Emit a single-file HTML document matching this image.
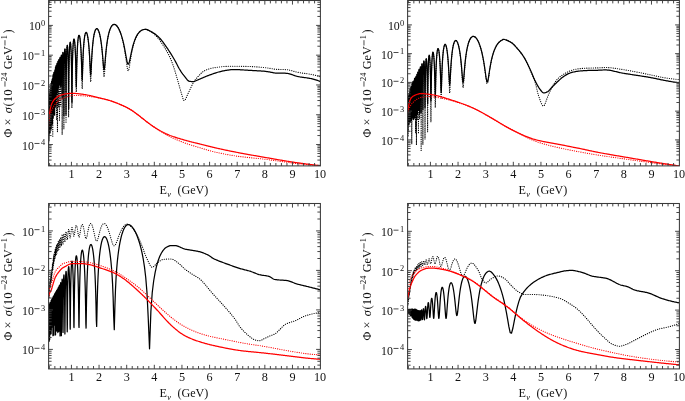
<!DOCTYPE html>
<html><head><meta charset="utf-8"><style>
html,body{margin:0;padding:0;background:#fff;}
svg{display:block;will-change:transform;}
.t text{font-family:"Liberation Serif",serif;font-size:12.2px;fill:#111;opacity:0.999;}
.t text.s,.t tspan.s{font-size:8.4px;}
</style></head><body>
<svg width="685" height="401" viewBox="0 0 685 401">
<rect width="685" height="401" fill="#fff"/>
<clipPath id="c1"><rect x="48.6" y="0.5" width="271.8" height="165.4"/></clipPath>
<g clip-path="url(#c1)">
<path d="M48.44 168.76L48.73 108.17L49.02 135.32L49.31 109.43L49.60 119.32L49.89 112.45L50.18 89.73L50.47 110.18L50.76 100.55L51.05 84.77L51.34 81.98L51.63 80.96L51.92 79.38L52.21 79.19L52.50 86.20L52.79 136.15L53.08 85.11L53.37 74.31L53.66 103.10L53.95 78.33L54.24 77.21L54.53 88.45L54.82 72.05L55.11 87.83L55.40 72.25L55.69 75.85L55.98 82.19L56.27 65.71L56.57 120.22L56.86 67.19L57.15 67.29L57.44 131.82L57.73 64.83L58.02 64.03L58.31 107.41L58.60 70.25L58.89 59.43L59.18 69.83L59.47 121.17L59.76 65.25L60.05 57.42L60.34 64.74L60.63 106.82L60.92 73.52L60.92 73.52L60.95 70.28L60.99 67.54L61.02 65.19L61.06 63.17L61.09 61.44L61.13 59.96L61.16 58.71L61.20 57.66L61.23 56.80L61.27 56.12L61.31 55.60L61.34 55.26L61.38 55.07L61.42 55.04L61.45 55.17L61.49 55.47L61.53 55.93L61.56 56.56L61.60 57.38L61.64 58.39L61.68 59.62L61.72 61.08L61.75 62.80L61.79 64.83L61.83 67.22L61.87 70.05L61.91 73.41L61.95 77.48L61.99 82.52L62.02 89.01L62.06 97.88L62.10 111.46L62.14 134.68L62.18 123.56L62.22 104.67L62.26 93.39L62.30 85.55L62.34 79.61L62.39 74.88L62.43 71.00L62.47 67.74L62.51 64.97L62.55 62.60L62.59 60.57L62.63 58.82L62.68 57.32L62.72 56.05L62.76 54.99L62.80 54.11L62.85 53.41L62.89 52.88L62.93 52.52L62.98 52.32L63.02 52.27L63.06 52.38L63.11 52.66L63.15 53.10L63.20 53.72L63.24 54.51L63.29 55.50L63.33 56.71L63.38 58.14L63.42 59.84L63.47 61.85L63.51 64.21L63.56 66.99L63.60 70.32L63.65 74.34L63.70 79.31L63.75 85.70L63.79 94.41L63.84 107.55L63.89 129.04L63.94 120.39L63.98 101.81L64.03 90.47L64.08 82.57L64.13 76.59L64.18 71.82L64.23 67.90L64.28 64.61L64.33 61.81L64.38 59.41L64.43 57.35L64.48 55.57L64.53 54.05L64.58 52.75L64.63 51.66L64.68 50.76L64.73 50.04L64.79 49.49L64.84 49.10L64.89 48.87L64.94 48.80L65.00 48.90L65.05 49.15L65.10 49.57L65.16 50.16L65.21 50.94L65.27 51.91L65.32 53.09L65.37 54.51L65.43 56.19L65.49 58.17L65.54 60.50L65.60 63.26L65.65 66.55L65.71 70.53L65.77 75.46L65.82 81.76L65.88 90.31L65.94 103.07L66.00 123.23L66.06 116.62L66.12 98.37L66.17 87.00L66.23 79.07L66.29 73.05L66.35 68.26L66.41 64.32L66.47 61.02L66.54 58.22L66.60 55.82L66.66 53.76L66.72 51.98L66.78 50.46L66.85 49.17L66.91 48.08L66.97 47.19L67.04 46.47L67.10 45.93L67.16 45.55L67.23 45.33L67.29 45.27L67.36 45.38L67.43 45.64L67.49 46.07L67.56 46.67L67.63 47.46L67.69 48.44L67.76 49.63L67.83 51.05L67.90 52.74L67.97 54.73L68.04 57.06L68.11 59.82L68.18 63.10L68.25 67.07L68.32 71.96L68.39 78.19L68.46 86.58L68.53 98.88L68.60 117.29L68.68 112.67L68.75 95.26L68.82 83.97L68.90 76.04L68.97 70.02L69.05 65.23L69.12 61.29L69.20 57.99L69.28 55.19L69.35 52.79L69.43 50.73L69.51 48.95L69.59 47.43L69.67 46.14L69.75 45.05L69.83 44.16L69.91 43.44L69.99 42.89L70.07 42.51L70.15 42.29L70.23 42.23L70.32 42.33L70.40 42.58L70.48 43.01L70.57 43.61L70.65 44.38L70.74 45.36L70.83 46.54L70.91 47.95L71.00 49.62L71.09 51.59L71.18 53.90L71.27 56.63L71.35 59.88L71.44 63.78L71.54 68.57L71.63 74.63L71.72 82.63L71.81 93.80L71.90 107.95L72.00 105.44L72.09 91.16L72.19 80.54L72.28 72.82L72.38 66.88L72.48 62.12L72.57 58.20L72.67 54.90L72.77 52.10L72.87 49.70L72.97 47.63L73.07 45.85L73.17 44.33L73.28 43.03L73.38 41.93L73.48 41.03L73.59 40.30L73.69 39.75L73.80 39.35L73.91 39.12L74.02 39.05L74.12 39.13L74.23 39.37L74.34 39.77L74.45 40.35L74.57 41.10L74.68 42.04L74.79 43.18L74.90 44.55L75.02 46.17L75.14 48.07L75.25 50.30L75.37 52.92L75.49 56.01L75.61 59.70L75.73 64.15L75.85 69.60L75.97 76.39L76.09 84.59L76.22 92.07L76.34 91.42L76.47 83.40L76.60 75.11L76.72 68.28L76.85 62.75L76.98 58.19L77.11 54.37L77.24 51.13L77.38 48.36L77.51 45.98L77.65 43.92L77.78 42.14L77.92 40.61L78.06 39.30L78.20 38.21L78.34 37.30L78.48 36.57L78.62 36.01L78.77 35.61L78.91 35.38L79.06 35.31L79.21 35.39L79.35 35.64L79.51 36.05L79.66 36.63L79.81 37.39L79.96 38.34L80.12 39.49L80.28 40.87L80.43 42.50L80.59 44.42L80.75 46.67L80.92 49.30L81.08 52.41L81.25 56.11L81.41 60.57L81.58 66.04L81.75 72.83L81.92 81.10L82.09 88.84L82.27 88.54L82.44 80.52L82.62 72.16L82.80 65.29L82.98 59.73L83.16 55.17L83.35 51.36L83.53 48.13L83.72 45.37L83.91 43.00L84.10 40.95L84.30 39.19L84.49 37.67L84.69 36.38L84.89 35.29L85.09 34.39L85.29 33.67L85.50 33.11L85.70 32.72L85.91 32.48L86.12 32.40L86.34 32.48L86.55 32.71L86.77 33.11L86.99 33.67L87.21 34.41L87.43 35.34L87.66 36.47L87.89 37.82L88.12 39.42L88.35 41.29L88.59 43.48L88.83 46.05L89.07 49.07L89.31 52.65L89.56 56.92L89.81 62.08L90.06 68.33L90.32 75.53L90.57 81.73L90.83 81.70L91.10 75.36L91.36 67.96L91.63 61.50L91.90 56.13L92.18 51.65L92.46 47.87L92.74 44.66L93.03 41.89L93.31 39.51L93.61 37.44L93.90 35.66L94.20 34.12L94.50 32.80L94.81 31.68L95.12 30.76L95.43 30.01L95.75 29.43L96.07 29.01L96.40 28.75L96.73 28.65L97.06 28.70L97.40 28.91L97.74 29.28L98.09 29.81L98.44 30.52L98.79 31.41L99.15 32.50L99.52 33.81L99.89 35.36L100.26 37.18L100.64 39.32L101.03 41.84L101.42 44.79L101.81 48.29L102.21 52.48L102.62 57.54L103.03 63.64L103.45 70.65L103.88 76.71L104.31 76.89L104.74 70.83L105.18 63.51L105.63 57.06L106.09 51.66L106.55 47.16L107.02 43.35L107.50 40.10L107.98 37.31L108.47 34.91L108.97 32.83L109.48 31.03L109.99 29.49L110.52 28.18L111.05 27.08L111.59 26.18L112.13 25.46L112.69 24.93L113.26 24.57L113.83 24.39L114.42 24.37L115.01 24.52L115.62 24.83L116.23 25.31L116.86 25.95L117.50 26.77L118.15 27.78L118.81 29.00L119.48 30.42L120.16 32.10L120.86 34.04L121.57 36.28L122.29 38.88L123.03 41.90L123.78 45.42L124.54 49.53L125.32 54.35L126.11 59.90L126.92 65.81L127.75 70.45L128.59 70.80L129.45 66.59L130.33 60.79L131.22 55.26L132.14 50.46L133.07 46.39L134.02 42.94L135.00 40.01L135.99 37.54L137.01 35.49L138.05 33.81L139.11 32.44L140.20 31.35L141.31 30.52L142.45 29.92L143.62 29.53L144.81 29.33L146.03 29.29L146.03 29.21L146.91 29.55L147.78 29.94L148.66 30.38L149.53 30.85L150.40 31.36L151.28 31.93L152.15 32.55L153.03 33.22L153.90 33.94L154.78 34.69L155.65 35.51L156.53 36.39L157.40 37.33L158.28 38.33L159.15 39.43L160.03 40.63L160.90 41.89L161.78 43.17L162.65 44.48L163.53 45.83L164.40 47.22L165.27 48.66L166.15 50.15L167.02 51.67L167.90 53.23L168.77 54.87L169.65 56.63L170.52 58.56L171.40 60.69L172.27 62.99L173.15 65.43L174.02 68.08L174.90 70.90L175.77 73.83L176.65 76.79L177.52 79.76L178.40 82.87L179.27 86.00L180.15 89.05L181.02 91.90L181.89 94.99L182.77 98.14L183.64 100.32L184.52 100.63L185.39 99.52L186.27 97.65L187.14 95.53L188.02 93.65L188.89 91.87L189.77 89.99L190.64 88.08L191.52 86.20L192.39 84.42L193.27 82.81L194.14 81.43L195.02 80.19L195.89 79.04L196.76 77.98L197.64 76.98L198.51 76.03L199.39 75.11L200.26 74.17L201.14 73.26L202.01 72.42L202.89 71.69L203.76 71.12L204.64 70.69L205.51 70.29L206.39 69.93L207.26 69.58L208.14 69.26L209.01 68.96L209.89 68.70L210.76 68.46L211.63 68.25L212.51 68.05L213.38 67.88L214.26 67.72L215.13 67.58L216.01 67.44L216.88 67.32L217.76 67.20L218.63 67.08L219.51 66.97L220.38 66.87L221.26 66.78L222.13 66.69L223.01 66.61L223.88 66.53L224.76 66.47L225.63 66.41L226.51 66.36L227.38 66.32L228.25 66.29L229.13 66.26L230.00 66.25L230.88 66.23L231.75 66.23L232.63 66.22L233.50 66.23L234.38 66.23L235.25 66.24L236.13 66.24L237.00 66.25L237.88 66.27L238.75 66.28L239.63 66.29L240.50 66.31L241.38 66.32L242.25 66.34L243.12 66.36L244.00 66.37L244.87 66.39L245.75 66.41L246.62 66.44L247.50 66.46L248.37 66.48L249.25 66.51L250.12 66.54L251.00 66.57L251.87 66.61L252.75 66.65L253.62 66.69L254.50 66.74L255.37 66.79L256.25 66.85L257.12 66.91L257.99 66.97L258.87 67.04L259.74 67.11L260.62 67.18L261.49 67.26L262.37 67.35L263.24 67.44L264.12 67.53L264.99 67.63L265.87 67.74L266.74 67.86L267.62 67.99L268.49 68.13L269.37 68.28L270.24 68.44L271.12 68.60L271.99 68.75L272.87 68.90L273.74 69.03L274.61 69.15L275.49 69.24L276.36 69.32L277.24 69.37L278.11 69.41L278.99 69.44L279.86 69.46L280.74 69.47L281.61 69.48L282.49 69.49L283.36 69.50L284.24 69.53L285.11 69.56L285.99 69.62L286.86 69.70L287.74 69.81L288.61 69.95L289.48 70.13L290.36 70.33L291.23 70.56L292.11 70.81L292.98 71.07L293.86 71.33L294.73 71.58L295.61 71.81L296.48 72.04L297.36 72.24L298.23 72.42L299.11 72.58L299.98 72.73L300.86 72.87L301.73 72.99L302.61 73.12L303.48 73.23L304.36 73.35L305.23 73.47L306.10 73.58L306.98 73.71L307.85 73.84L308.73 73.98L309.60 74.13L310.48 74.28L311.35 74.45L312.23 74.63L313.10 74.82L313.98 75.02L314.85 75.23L315.73 75.44L316.60 75.67L317.48 75.90L318.35 76.14L319.23 76.38L320.10 76.62" stroke="#000" stroke-width="1.15" fill="none" stroke-linecap="round" stroke-dasharray="0.15 2.05"/>
<path d="M48.22 117.74L48.33 136.59L48.44 144.72L48.55 133.36L48.66 130.39L48.77 135.69L48.88 140.93L48.99 120.18L49.10 104.35L49.22 97.46L49.33 101.40L49.44 130.79L49.55 104.59L49.66 93.55L49.77 113.65L49.88 102.08L49.99 91.98L50.10 132.99L50.21 89.50L50.32 109.88L50.43 90.92L50.54 100.42L50.65 90.77L50.76 99.70L50.87 87.61L50.98 107.86L51.09 83.68L51.20 128.98L51.32 83.02L51.43 96.97L51.54 92.55L51.65 81.82L51.76 124.62L51.87 83.00L51.98 83.94L52.09 121.31L52.20 80.38L52.31 82.92L52.42 123.98L52.53 80.99L52.64 78.61L52.75 108.29L52.86 88.00L52.97 75.40L53.08 84.74L53.19 117.99L53.30 80.01L53.42 74.17L53.53 86.33L53.64 114.04L53.75 79.33L53.86 72.43L53.97 79.96L54.08 113.40L54.19 86.32L54.30 72.29L54.41 71.98L54.52 84.41L54.63 115.19L54.74 81.68L54.85 70.35L54.96 69.80L55.07 79.14L55.18 107.43L55.29 88.71L55.40 72.07L55.52 67.10L55.63 69.63L55.74 80.96L55.85 106.05L55.96 85.75L56.07 70.92L56.18 65.48L56.29 66.02L56.40 72.41L56.51 86.51L56.62 94.41L56.73 77.64L56.84 67.60L56.95 63.46L57.06 63.76L57.17 68.38L57.28 78.27L57.39 91.28L57.50 83.93L57.61 71.51L57.73 64.45L57.84 61.48L57.95 61.82L58.06 65.41L58.17 72.76L58.28 83.94L58.39 87.86L58.50 76.92L58.61 67.68L58.72 62.22L58.83 59.73L58.94 59.73L59.05 62.14L59.16 67.21L59.27 75.38L59.38 85.09L59.49 84.55L59.60 74.65L59.71 66.51L59.83 61.27L59.94 58.37L60.05 57.42L60.16 58.27L60.27 60.98L60.38 65.79L60.49 73.14L60.60 82.59L60.71 86.55L60.82 78.57L60.93 69.56L61.04 63.06L61.15 58.75L61.26 56.18L61.37 55.09L61.48 55.37L61.59 57.03L61.70 60.24L61.81 65.38L61.93 73.24L62.04 85.25L62.15 98.12L62.26 88.55L62.37 75.33L62.48 66.47L62.59 60.53L62.70 56.53L62.81 53.97L62.92 52.60L63.03 52.28L63.14 52.98L63.25 54.72L63.36 57.65L63.47 62.05L63.58 68.51L63.69 78.34L63.80 95.26L63.91 115.69L64.03 90.46L64.14 75.52L64.25 66.43L64.36 60.25L64.47 55.87L64.58 52.76L64.69 50.65L64.80 49.37L64.91 48.83L65.02 48.99L65.13 49.85L65.24 51.44L65.35 53.85L65.46 57.25L65.57 61.90L65.68 68.34L65.79 77.72L65.90 92.97L66.01 114.84L66.13 94.43L66.24 78.42L66.35 68.62L66.46 61.85L66.57 56.89L66.68 53.15L66.79 50.33L66.90 48.23L67.01 46.75L67.12 45.79L67.23 45.33L67.34 45.33L67.45 45.79L67.56 46.70L67.67 48.11L67.78 50.05L67.89 52.61L68.00 55.90L68.11 60.14L68.22 65.67L68.34 73.15L68.45 84.01L68.56 101.31L68.67 109.01L68.78 89.51L68.89 76.69L69.00 68.15L69.11 61.95L69.22 57.21L69.33 53.47L69.44 50.50L69.55 48.11L69.66 46.22L69.77 44.74L69.88 43.64L69.99 42.86L70.10 42.40L70.21 42.23L70.32 42.34L70.44 42.74L70.55 43.42L70.66 44.40L70.77 45.69L70.88 47.33L70.99 49.35L71.10 51.81L71.21 54.79L71.32 58.43L71.43 62.92L71.54 68.58L71.65 75.97L71.76 86.06L71.87 99.24L71.98 102.32L72.09 89.40L72.20 78.40L72.31 70.41L72.42 64.34L72.54 59.55L72.65 55.66L72.76 52.45L72.87 49.76L72.98 47.50L73.09 45.59L73.20 43.99L73.31 42.66L73.42 41.56L73.53 40.69L73.64 40.01L73.75 39.52L73.86 39.20L73.97 39.06L74.08 39.08L74.19 39.26L74.30 39.61L74.41 40.11L74.52 40.79L74.64 41.64L74.75 42.67L74.86 43.90L74.97 45.33L75.08 47.00L75.19 48.92L75.30 51.13L75.41 53.68L75.52 56.62L75.63 60.04L75.74 64.03L75.85 68.70L75.96 74.13L76.07 80.10L76.18 85.38L76.29 86.94L76.40 83.41L76.51 77.57L76.62 71.75L76.73 66.63L76.85 62.24L76.96 58.47L77.07 55.23L77.18 52.41L77.29 49.94L77.40 47.78L77.51 45.87L77.62 44.19L77.73 42.70L77.84 41.39L77.95 40.24L78.06 39.23L78.17 38.36L78.28 37.61L78.39 36.98L78.50 36.45L78.61 36.03L78.72 35.71L78.83 35.48L78.95 35.35L79.06 35.31L79.17 35.35L79.28 35.49L79.39 35.71L79.50 36.01L79.61 36.41L79.72 36.89L79.72 36.89L79.87 37.71L80.03 38.72L80.18 39.93L80.34 41.37L80.50 43.06L80.66 45.03L80.82 47.33L80.98 50.00L81.14 53.12L81.31 56.79L81.48 61.09L81.64 66.13L81.81 71.81L81.99 77.33L82.16 80.21L82.33 78.10L82.51 72.73L82.69 66.84L82.87 61.51L83.05 56.93L83.23 53.00L83.41 49.64L83.60 46.74L83.79 44.23L83.98 42.06L84.17 40.17L84.36 38.54L84.56 37.14L84.75 35.94L84.95 34.94L85.15 34.11L85.36 33.45L85.56 32.96L85.77 32.62L85.98 32.44L86.19 32.41L86.40 32.53L86.62 32.80L86.83 33.24L87.05 33.84L87.28 34.62L87.50 35.58L87.73 36.75L87.96 38.13L88.19 39.75L88.42 41.64L88.66 43.84L88.90 46.40L89.14 49.38L89.38 52.86L89.63 56.91L89.88 61.61L90.13 66.83L90.38 71.91L90.64 74.90L90.90 73.67L91.16 69.10L91.43 63.61L91.70 58.43L91.97 53.87L92.25 49.93L92.53 46.53L92.81 43.58L93.09 41.02L93.38 38.79L93.67 36.86L93.97 35.17L94.27 33.72L94.57 32.48L94.88 31.43L95.19 30.55L95.50 29.85L95.82 29.32L96.14 28.94L96.46 28.72L96.79 28.65L97.13 28.73L97.47 28.96L97.81 29.35L98.15 29.91L98.50 30.63L98.86 31.54L99.22 32.64L99.59 33.95L99.96 35.50L100.33 37.31L100.71 39.42L101.09 41.88L101.48 44.75L101.88 48.09L102.28 51.98L102.69 56.49L103.10 61.53L103.52 66.53L103.94 69.79L104.37 69.16L104.81 65.00L105.25 59.63L105.70 54.42L106.15 49.80L106.62 45.78L107.09 42.30L107.56 39.29L108.05 36.67L108.54 34.40L109.04 32.42L109.54 30.71L110.06 29.23L110.58 27.98L111.11 26.92L111.65 26.06L112.19 25.38L112.75 24.88L113.32 24.54L113.89 24.38L114.48 24.38L115.07 24.54L115.68 24.86L116.29 25.34L116.92 25.99L117.55 26.81L118.20 27.81L118.86 29.00L119.53 30.40L120.21 32.04L120.91 33.92L121.62 36.09L122.34 38.58L123.07 41.42L123.82 44.68L124.59 48.39L125.36 52.54L126.16 57.00L126.96 61.24L127.79 64.08L128.63 64.16L129.49 61.43L130.36 57.29L131.26 52.93L132.17 48.87L133.10 45.27L134.05 42.14L135.02 39.42L136.02 37.11L137.03 35.18L138.07 33.57L139.13 32.27L140.21 31.23L141.32 30.44L142.46 29.87L143.62 29.50L144.81 29.31L146.03 29.28L146.03 29.21L146.91 29.56L147.78 29.93L148.66 30.33L149.53 30.76L150.40 31.20L151.28 31.67L152.15 32.16L153.03 32.69L153.90 33.24L154.78 33.84L155.65 34.49L156.53 35.19L157.40 35.94L158.28 36.75L159.15 37.61L160.03 38.52L160.90 39.50L161.78 40.58L162.65 41.73L163.53 42.93L164.40 44.14L165.27 45.36L166.15 46.60L167.02 47.87L167.90 49.16L168.77 50.49L169.65 51.84L170.52 53.21L171.40 54.62L172.27 56.05L173.15 57.52L174.02 59.01L174.90 60.53L175.77 62.12L176.65 63.79L177.52 65.50L178.40 67.17L179.27 68.76L180.15 70.21L181.02 71.56L181.89 72.84L182.77 74.07L183.64 75.23L184.52 76.34L185.39 77.43L186.27 78.60L187.14 79.73L188.02 80.62L188.89 81.10L189.77 81.31L190.64 81.48L191.52 81.60L192.39 81.67L193.27 81.65L194.14 81.39L195.02 81.06L195.89 80.74L196.76 80.38L197.64 80.00L198.51 79.61L199.39 79.22L200.26 78.86L201.14 78.49L202.01 78.12L202.89 77.75L203.76 77.38L204.64 77.02L205.51 76.65L206.39 76.29L207.26 75.94L208.14 75.59L209.01 75.25L209.89 74.93L210.76 74.61L211.63 74.29L212.51 73.97L213.38 73.65L214.26 73.35L215.13 73.06L216.01 72.78L216.88 72.52L217.76 72.27L218.63 72.02L219.51 71.79L220.38 71.57L221.26 71.35L222.13 71.15L223.01 70.96L223.88 70.77L224.76 70.60L225.63 70.43L226.51 70.28L227.38 70.14L228.25 70.01L229.13 69.90L230.00 69.80L230.88 69.73L231.75 69.66L232.63 69.62L233.50 69.59L234.38 69.58L235.25 69.58L236.13 69.59L237.00 69.61L237.88 69.64L238.75 69.68L239.63 69.72L240.50 69.77L241.38 69.82L242.25 69.88L243.12 69.94L244.00 70.00L244.87 70.06L245.75 70.12L246.62 70.17L247.50 70.23L248.37 70.29L249.25 70.34L250.12 70.39L251.00 70.44L251.87 70.49L252.75 70.54L253.62 70.58L254.50 70.63L255.37 70.67L256.25 70.72L257.12 70.76L257.99 70.81L258.87 70.85L259.74 70.90L260.62 70.96L261.49 71.01L262.37 71.07L263.24 71.14L264.12 71.22L264.99 71.30L265.87 71.40L266.74 71.51L267.62 71.64L268.49 71.78L269.37 71.94L270.24 72.11L271.12 72.29L271.99 72.47L272.87 72.64L273.74 72.80L274.61 72.93L275.49 73.04L276.36 73.12L277.24 73.17L278.11 73.20L278.99 73.22L279.86 73.22L280.74 73.21L281.61 73.20L282.49 73.19L283.36 73.18L284.24 73.19L285.11 73.22L285.99 73.28L286.86 73.36L287.74 73.49L288.61 73.66L289.48 73.87L290.36 74.11L291.23 74.39L292.11 74.69L292.98 75.00L293.86 75.31L294.73 75.61L295.61 75.89L296.48 76.14L297.36 76.37L298.23 76.56L299.11 76.74L299.98 76.90L300.86 77.04L301.73 77.16L302.61 77.28L303.48 77.40L304.36 77.51L305.23 77.63L306.10 77.75L306.98 77.87L307.85 78.01L308.73 78.16L309.60 78.32L310.48 78.49L311.35 78.68L312.23 78.89L313.10 79.12L313.98 79.36L314.85 79.62L315.73 79.89L316.60 80.17L317.48 80.46L318.35 80.77L319.23 81.08L320.10 81.39" stroke="#000" stroke-width="1.25" fill="none" stroke-linejoin="round"/>
<path d="M48.22 129.66L48.90 123.24L49.58 118.51L50.27 115.04L50.95 112.47L51.63 110.55L52.31 108.92L52.99 107.54L53.67 106.36L54.35 105.31L55.03 104.37L55.72 103.51L56.40 102.73L57.08 102.05L57.76 101.45L58.44 100.91L59.12 100.43L59.80 99.98L60.49 99.56L61.17 99.19L61.85 98.84L62.53 98.51L63.21 98.21L63.89 97.93L64.57 97.67L65.26 97.42L65.94 97.19L66.62 96.97L67.30 96.77L67.98 96.57L68.66 96.37L69.34 96.16L70.03 95.95L70.71 95.75L71.39 95.58L72.07 95.49L72.75 95.45L73.43 95.46L74.11 95.47L74.80 95.47L75.48 95.47L76.16 95.47L76.84 95.47L77.52 95.48L78.20 95.50L78.88 95.52L79.57 95.56L80.25 95.59L80.93 95.63L81.61 95.67L82.29 95.72L82.97 95.78L83.65 95.84L84.34 95.90L85.02 95.97L85.70 96.04L86.38 96.12L87.06 96.20L87.74 96.28L88.42 96.36L89.10 96.45L89.79 96.54L90.47 96.63L91.15 96.73L91.83 96.82L92.51 96.92L93.19 97.02L93.87 97.13L94.56 97.24L95.24 97.34L95.92 97.46L96.60 97.57L97.28 97.69L97.96 97.81L98.64 97.93L99.33 98.06L100.01 98.18L100.69 98.32L101.37 98.45L102.05 98.59L102.73 98.73L103.41 98.88L104.10 99.04L104.78 99.20L105.46 99.36L106.14 99.54L106.82 99.71L107.50 99.90L108.18 100.09L108.87 100.29L109.55 100.50L110.23 100.72L110.91 100.94L111.59 101.17L112.27 101.41L112.95 101.65L113.64 101.90L114.32 102.15L115.00 102.40L115.68 102.66L116.36 102.93L117.04 103.19L117.72 103.46L118.41 103.74L119.09 104.02L119.77 104.30L120.45 104.58L121.13 104.87L121.81 105.16L122.49 105.46L123.17 105.76L123.86 106.07L124.54 106.39L125.22 106.71L125.90 107.05L126.58 107.39L127.26 107.74L127.94 108.11L128.63 108.49L129.31 108.88L129.99 109.28L130.67 109.69L131.35 110.12L132.03 110.56L132.71 111.01L133.40 111.48L134.08 111.95L134.76 112.44L135.44 112.94L136.12 113.44L136.80 113.96L137.48 114.48L138.17 115.00L138.85 115.54L139.53 116.07L140.21 116.61L140.89 117.15L141.57 117.69L142.25 118.23L142.94 118.77L143.62 119.31L144.30 119.84L144.98 120.38L145.66 120.91L146.34 121.44L147.02 121.96L147.71 122.48L148.39 122.99L149.07 123.50L149.75 124.00L150.43 124.50L151.11 124.99L151.79 125.48L152.48 125.96L153.16 126.44L153.84 126.91L154.52 127.37L155.20 127.83L155.88 128.28L156.56 128.73L157.25 129.17L157.93 129.61L158.61 130.04L159.29 130.46L159.97 130.88L160.65 131.30L161.33 131.71L162.01 132.12L162.70 132.53L163.38 132.93L164.06 133.33L164.74 133.73L165.42 134.12L166.10 134.51L166.78 134.90L167.47 135.27L168.15 135.65L168.83 136.01L169.51 136.37L170.19 136.72L170.87 137.07L171.55 137.40L172.24 137.73L172.92 138.06L173.60 138.37L174.28 138.68L174.96 138.98L175.64 139.28L176.32 139.57L177.01 139.86L177.69 140.15L178.37 140.43L179.05 140.71L179.73 140.99L180.41 141.26L181.09 141.54L181.78 141.80L182.46 142.07L183.14 142.33L183.82 142.59L184.50 142.85L185.18 143.10L185.86 143.35L186.55 143.59L187.23 143.83L187.91 144.06L188.59 144.29L189.27 144.51L189.95 144.73L190.63 144.94L191.32 145.16L192.00 145.36L192.68 145.57L193.36 145.78L194.04 145.98L194.72 146.19L195.40 146.40L196.08 146.60L196.77 146.81L197.45 147.01L198.13 147.22L198.81 147.43L199.49 147.63L200.17 147.84L200.85 148.05L201.54 148.26L202.22 148.47L202.90 148.68L203.58 148.89L204.26 149.09L204.94 149.30L205.62 149.51L206.31 149.72L206.99 149.92L207.67 150.12L208.35 150.32L209.03 150.52L209.71 150.71L210.39 150.90L211.08 151.08L211.76 151.26L212.44 151.44L213.12 151.61L213.80 151.78L214.48 151.94L215.16 152.10L215.85 152.25L216.53 152.40L217.21 152.55L217.89 152.70L218.57 152.84L219.25 152.98L219.93 153.12L220.62 153.26L221.30 153.40L221.98 153.53L222.66 153.67L223.34 153.80L224.02 153.94L224.70 154.07L225.39 154.21L226.07 154.34L226.75 154.47L227.43 154.60L228.11 154.72L228.79 154.85L229.47 154.97L230.16 155.09L230.84 155.21L231.52 155.32L232.20 155.43L232.88 155.54L233.56 155.65L234.24 155.75L234.92 155.85L235.61 155.95L236.29 156.05L236.97 156.14L237.65 156.23L238.33 156.32L239.01 156.41L239.69 156.50L240.38 156.58L241.06 156.67L241.74 156.75L242.42 156.83L243.10 156.91L243.78 156.99L244.46 157.06L245.15 157.14L245.83 157.22L246.51 157.29L247.19 157.37L247.87 157.44L248.55 157.51L249.23 157.58L249.92 157.66L250.60 157.73L251.28 157.80L251.96 157.87L252.64 157.94L253.32 158.01L254.00 158.08L254.69 158.15L255.37 158.22L256.05 158.30L256.73 158.37L257.41 158.44L258.09 158.51L258.77 158.58L259.46 158.66L260.14 158.73L260.82 158.81L261.50 158.88L262.18 158.96L262.86 159.04L263.54 159.11L264.23 159.19L264.91 159.28L265.59 159.36L266.27 159.44L266.95 159.52L267.63 159.61L268.31 159.70L268.99 159.78L269.68 159.87L270.36 159.96L271.04 160.05L271.72 160.15L272.40 160.24L273.08 160.33L273.76 160.43L274.45 160.52L275.13 160.62L275.81 160.72L276.49 160.81L277.17 160.91L277.85 161.01L278.53 161.11L279.22 161.20L279.90 161.30L280.58 161.40L281.26 161.50L281.94 161.59L282.62 161.69L283.30 161.79L283.99 161.88L284.67 161.98L285.35 162.07L286.03 162.17L286.71 162.26L287.39 162.35L288.07 162.44L288.76 162.53L289.44 162.62L290.12 162.71L290.80 162.79L291.48 162.88L292.16 162.96L292.84 163.04L293.53 163.13L294.21 163.21L294.89 163.28L295.57 163.36L296.25 163.44L296.93 163.51L297.61 163.59L298.30 163.66L298.98 163.73L299.66 163.81L300.34 163.88L301.02 163.95L301.70 164.02L302.38 164.09L303.06 164.16L303.75 164.22L304.43 164.29L305.11 164.36L305.79 164.42L306.47 164.49L307.15 164.56L307.83 164.62L308.52 164.68L309.20 164.75L309.88 164.81L310.56 164.87L311.24 164.93L311.92 164.99L312.60 165.05L313.29 165.11L313.97 165.17L314.65 165.22L315.33 165.28L316.01 165.34L316.69 165.39L317.37 165.45L318.06 165.50L318.74 165.56L319.42 165.61L320.10 165.66" stroke="#f00" stroke-width="1.15" fill="none" stroke-linecap="round" stroke-dasharray="0.15 2.05"/>
<path d="M48.22 121.75L48.90 117.26L49.58 113.14L50.27 109.06L50.95 105.92L51.63 104.04L52.31 102.52L52.99 101.29L53.67 100.29L54.35 99.47L55.03 98.74L55.72 98.11L56.40 97.56L57.08 97.07L57.76 96.65L58.44 96.27L59.12 95.91L59.80 95.59L60.49 95.29L61.17 95.02L61.85 94.78L62.53 94.58L63.21 94.41L63.89 94.25L64.57 94.10L65.26 93.97L65.94 93.85L66.62 93.75L67.30 93.66L67.98 93.60L68.66 93.54L69.34 93.48L70.03 93.43L70.71 93.38L71.39 93.34L72.07 93.33L72.75 93.33L73.43 93.35L74.11 93.38L74.80 93.42L75.48 93.46L76.16 93.52L76.84 93.57L77.52 93.64L78.20 93.70L78.88 93.77L79.57 93.85L80.25 93.93L80.93 94.01L81.61 94.10L82.29 94.19L82.97 94.29L83.65 94.40L84.34 94.51L85.02 94.62L85.70 94.74L86.38 94.86L87.06 94.99L87.74 95.13L88.42 95.26L89.10 95.41L89.79 95.55L90.47 95.71L91.15 95.86L91.83 96.02L92.51 96.18L93.19 96.35L93.87 96.51L94.56 96.68L95.24 96.85L95.92 97.02L96.60 97.19L97.28 97.36L97.96 97.53L98.64 97.70L99.33 97.86L100.01 98.03L100.69 98.19L101.37 98.35L102.05 98.52L102.73 98.68L103.41 98.84L104.10 99.01L104.78 99.18L105.46 99.35L106.14 99.53L106.82 99.71L107.50 99.90L108.18 100.10L108.87 100.30L109.55 100.51L110.23 100.72L110.91 100.95L111.59 101.18L112.27 101.41L112.95 101.65L113.64 101.90L114.32 102.15L115.00 102.41L115.68 102.67L116.36 102.93L117.04 103.20L117.72 103.47L118.41 103.74L119.09 104.02L119.77 104.30L120.45 104.58L121.13 104.87L121.81 105.16L122.49 105.46L123.17 105.76L123.86 106.07L124.54 106.39L125.22 106.71L125.90 107.05L126.58 107.39L127.26 107.74L127.94 108.11L128.63 108.49L129.31 108.88L129.99 109.28L130.67 109.69L131.35 110.12L132.03 110.56L132.71 111.01L133.40 111.48L134.08 111.95L134.76 112.44L135.44 112.94L136.12 113.44L136.80 113.96L137.48 114.48L138.17 115.00L138.85 115.54L139.53 116.07L140.21 116.61L140.89 117.15L141.57 117.69L142.25 118.23L142.94 118.77L143.62 119.31L144.30 119.84L144.98 120.38L145.66 120.91L146.34 121.44L147.02 121.96L147.71 122.47L148.39 122.99L149.07 123.49L149.75 124.00L150.43 124.49L151.11 124.98L151.79 125.46L152.48 125.94L153.16 126.41L153.84 126.87L154.52 127.33L155.20 127.78L155.88 128.22L156.56 128.65L157.25 129.07L157.93 129.49L158.61 129.90L159.29 130.30L159.97 130.69L160.65 131.07L161.33 131.45L162.01 131.81L162.70 132.17L163.38 132.52L164.06 132.85L164.74 133.18L165.42 133.51L166.10 133.82L166.78 134.12L167.47 134.42L168.15 134.70L168.83 134.98L169.51 135.25L170.19 135.52L170.87 135.77L171.55 136.02L172.24 136.26L172.92 136.50L173.60 136.73L174.28 136.96L174.96 137.18L175.64 137.40L176.32 137.61L177.01 137.82L177.69 138.03L178.37 138.24L179.05 138.45L179.73 138.66L180.41 138.86L181.09 139.07L181.78 139.27L182.46 139.47L183.14 139.67L183.82 139.87L184.50 140.07L185.18 140.27L185.86 140.46L186.55 140.65L187.23 140.83L187.91 141.02L188.59 141.20L189.27 141.38L189.95 141.55L190.63 141.73L191.32 141.90L192.00 142.07L192.68 142.24L193.36 142.40L194.04 142.57L194.72 142.74L195.40 142.90L196.08 143.07L196.77 143.23L197.45 143.40L198.13 143.57L198.81 143.73L199.49 143.90L200.17 144.07L200.85 144.24L201.54 144.41L202.22 144.58L202.90 144.75L203.58 144.92L204.26 145.09L204.94 145.26L205.62 145.43L206.31 145.60L206.99 145.77L207.67 145.94L208.35 146.11L209.03 146.28L209.71 146.45L210.39 146.62L211.08 146.79L211.76 146.96L212.44 147.12L213.12 147.29L213.80 147.45L214.48 147.61L215.16 147.77L215.85 147.93L216.53 148.09L217.21 148.25L217.89 148.40L218.57 148.55L219.25 148.71L219.93 148.86L220.62 149.01L221.30 149.16L221.98 149.31L222.66 149.45L223.34 149.60L224.02 149.75L224.70 149.89L225.39 150.04L226.07 150.18L226.75 150.32L227.43 150.46L228.11 150.60L228.79 150.74L229.47 150.88L230.16 151.02L230.84 151.16L231.52 151.30L232.20 151.44L232.88 151.57L233.56 151.71L234.24 151.84L234.92 151.98L235.61 152.11L236.29 152.24L236.97 152.38L237.65 152.51L238.33 152.64L239.01 152.77L239.69 152.90L240.38 153.02L241.06 153.15L241.74 153.28L242.42 153.41L243.10 153.53L243.78 153.66L244.46 153.78L245.15 153.91L245.83 154.03L246.51 154.16L247.19 154.28L247.87 154.40L248.55 154.53L249.23 154.65L249.92 154.77L250.60 154.89L251.28 155.01L251.96 155.13L252.64 155.25L253.32 155.37L254.00 155.50L254.69 155.62L255.37 155.73L256.05 155.85L256.73 155.97L257.41 156.09L258.09 156.21L258.77 156.33L259.46 156.45L260.14 156.57L260.82 156.69L261.50 156.81L262.18 156.92L262.86 157.04L263.54 157.16L264.23 157.28L264.91 157.40L265.59 157.52L266.27 157.63L266.95 157.75L267.63 157.87L268.31 157.99L268.99 158.11L269.68 158.23L270.36 158.34L271.04 158.46L271.72 158.58L272.40 158.70L273.08 158.82L273.76 158.94L274.45 159.06L275.13 159.18L275.81 159.29L276.49 159.41L277.17 159.53L277.85 159.65L278.53 159.77L279.22 159.88L279.90 160.00L280.58 160.12L281.26 160.23L281.94 160.35L282.62 160.46L283.30 160.58L283.99 160.69L284.67 160.80L285.35 160.92L286.03 161.03L286.71 161.14L287.39 161.25L288.07 161.36L288.76 161.47L289.44 161.57L290.12 161.68L290.80 161.79L291.48 161.89L292.16 162.00L292.84 162.10L293.53 162.20L294.21 162.30L294.89 162.40L295.57 162.50L296.25 162.60L296.93 162.70L297.61 162.80L298.30 162.89L298.98 162.99L299.66 163.09L300.34 163.18L301.02 163.27L301.70 163.37L302.38 163.46L303.06 163.55L303.75 163.64L304.43 163.74L305.11 163.83L305.79 163.92L306.47 164.01L307.15 164.09L307.83 164.18L308.52 164.27L309.20 164.36L309.88 164.44L310.56 164.53L311.24 164.61L311.92 164.70L312.60 164.78L313.29 164.86L313.97 164.94L314.65 165.03L315.33 165.11L316.01 165.19L316.69 165.27L317.37 165.35L318.06 165.43L318.74 165.51L319.42 165.58L320.10 165.66" stroke="#f00" stroke-width="1.25" fill="none"/>
</g>
<path d="M49.33 165.9v-2.9M49.33 0.5v2.9M54.85 165.9v-2.9M54.85 0.5v2.9M60.38 165.9v-2.9M60.38 0.5v2.9M65.9 165.9v-2.9M65.9 0.5v2.9M71.43 165.9v-4.1M71.43 0.5v4.1M76.96 165.9v-2.9M76.96 0.5v2.9M82.48 165.9v-2.9M82.48 0.5v2.9M88.01 165.9v-2.9M88.01 0.5v2.9M93.53 165.9v-2.9M93.53 0.5v2.9M99.06 165.9v-4.1M99.06 0.5v4.1M104.59 165.9v-2.9M104.59 0.5v2.9M110.11 165.9v-2.9M110.11 0.5v2.9M115.64 165.9v-2.9M115.64 0.5v2.9M121.16 165.9v-2.9M121.16 0.5v2.9M126.69 165.9v-4.1M126.69 0.5v4.1M132.22 165.9v-2.9M132.22 0.5v2.9M137.74 165.9v-2.9M137.74 0.5v2.9M143.27 165.9v-2.9M143.27 0.5v2.9M148.79 165.9v-2.9M148.79 0.5v2.9M154.32 165.9v-4.1M154.32 0.5v4.1M159.85 165.9v-2.9M159.85 0.5v2.9M165.37 165.9v-2.9M165.37 0.5v2.9M170.9 165.9v-2.9M170.9 0.5v2.9M176.42 165.9v-2.9M176.42 0.5v2.9M181.95 165.9v-4.1M181.95 0.5v4.1M187.48 165.9v-2.9M187.48 0.5v2.9M193 165.9v-2.9M193 0.5v2.9M198.53 165.9v-2.9M198.53 0.5v2.9M204.05 165.9v-2.9M204.05 0.5v2.9M209.58 165.9v-4.1M209.58 0.5v4.1M215.11 165.9v-2.9M215.11 0.5v2.9M220.63 165.9v-2.9M220.63 0.5v2.9M226.16 165.9v-2.9M226.16 0.5v2.9M231.68 165.9v-2.9M231.68 0.5v2.9M237.21 165.9v-4.1M237.21 0.5v4.1M242.74 165.9v-2.9M242.74 0.5v2.9M248.26 165.9v-2.9M248.26 0.5v2.9M253.79 165.9v-2.9M253.79 0.5v2.9M259.31 165.9v-2.9M259.31 0.5v2.9M264.84 165.9v-4.1M264.84 0.5v4.1M270.37 165.9v-2.9M270.37 0.5v2.9M275.89 165.9v-2.9M275.89 0.5v2.9M281.42 165.9v-2.9M281.42 0.5v2.9M286.94 165.9v-2.9M286.94 0.5v2.9M292.47 165.9v-4.1M292.47 0.5v4.1M298 165.9v-2.9M298 0.5v2.9M303.52 165.9v-2.9M303.52 0.5v2.9M309.05 165.9v-2.9M309.05 0.5v2.9M314.57 165.9v-2.9M314.57 0.5v2.9M48.6 165.34h3M320.4 165.34h-3M48.6 160.09h3M320.4 160.09h-3M48.6 156.37h3M320.4 156.37h-3M48.6 153.48h3M320.4 153.48h-3M48.6 151.13h3M320.4 151.13h-3M48.6 149.13h3M320.4 149.13h-3M48.6 147.41h3M320.4 147.41h-3M48.6 145.88h3M320.4 145.88h-3M48.6 144.52h4.3M320.4 144.52h-4.3M48.6 135.56h3M320.4 135.56h-3M48.6 130.31h3M320.4 130.31h-3M48.6 126.59h3M320.4 126.59h-3M48.6 123.7h3M320.4 123.7h-3M48.6 121.35h3M320.4 121.35h-3M48.6 119.35h3M320.4 119.35h-3M48.6 117.63h3M320.4 117.63h-3M48.6 116.1h3M320.4 116.1h-3M48.6 114.74h4.3M320.4 114.74h-4.3M48.6 105.78h3M320.4 105.78h-3M48.6 100.53h3M320.4 100.53h-3M48.6 96.81h3M320.4 96.81h-3M48.6 93.92h3M320.4 93.92h-3M48.6 91.57h3M320.4 91.57h-3M48.6 89.57h3M320.4 89.57h-3M48.6 87.85h3M320.4 87.85h-3M48.6 86.32h3M320.4 86.32h-3M48.6 84.96h4.3M320.4 84.96h-4.3M48.6 76h3M320.4 76h-3M48.6 70.75h3M320.4 70.75h-3M48.6 67.03h3M320.4 67.03h-3M48.6 64.14h3M320.4 64.14h-3M48.6 61.79h3M320.4 61.79h-3M48.6 59.79h3M320.4 59.79h-3M48.6 58.07h3M320.4 58.07h-3M48.6 56.54h3M320.4 56.54h-3M48.6 55.18h4.3M320.4 55.18h-4.3M48.6 46.22h3M320.4 46.22h-3M48.6 40.97h3M320.4 40.97h-3M48.6 37.25h3M320.4 37.25h-3M48.6 34.36h3M320.4 34.36h-3M48.6 32.01h3M320.4 32.01h-3M48.6 30.01h3M320.4 30.01h-3M48.6 28.29h3M320.4 28.29h-3M48.6 26.76h3M320.4 26.76h-3M48.6 25.4h4.3M320.4 25.4h-4.3M48.6 16.44h3M320.4 16.44h-3M48.6 11.19h3M320.4 11.19h-3M48.6 7.47h3M320.4 7.47h-3M48.6 4.58h3M320.4 4.58h-3M48.6 2.23h3M320.4 2.23h-3" stroke="#3c3c3c" stroke-width="0.95" fill="none"/>
<rect x="48.6" y="0.5" width="271.8" height="165.4" fill="none" stroke="#3a3a3a" stroke-width="1.05"/>
<g class="t" opacity="0.999"><text transform="translate(71.43 177.8) scale(1 1.08)" text-anchor="middle">1</text><text transform="translate(99.06 177.8) scale(1 1.08)" text-anchor="middle">2</text><text transform="translate(126.69 177.8) scale(1 1.08)" text-anchor="middle">3</text><text transform="translate(154.32 177.8) scale(1 1.08)" text-anchor="middle">4</text><text transform="translate(181.95 177.8) scale(1 1.08)" text-anchor="middle">5</text><text transform="translate(209.58 177.8) scale(1 1.08)" text-anchor="middle">6</text><text transform="translate(237.21 177.8) scale(1 1.08)" text-anchor="middle">7</text><text transform="translate(264.84 177.8) scale(1 1.08)" text-anchor="middle">8</text><text transform="translate(292.47 177.8) scale(1 1.08)" text-anchor="middle">9</text><text transform="translate(320.1 177.8) scale(1 1.08)" text-anchor="middle">10</text><text transform="translate(159.6 194.3) scale(1 1.08)">E</text><text x="167.2" y="196.5" class="s" font-style="italic" transform="skewX(0)">&#957;</text><text transform="translate(177.4 194.3) scale(1 1.08)" textLength="31" lengthAdjust="spacingAndGlyphs">(GeV)</text><text transform="translate(45.1 145.12) scale(1 1.08)" text-anchor="end" class="s">4</text><rect x="34.5" y="142.97" width="5.0" height="0.75" fill="#111"/><text transform="translate(33.9 149.52) scale(1 1.08)" text-anchor="end" textLength="11.9" lengthAdjust="spacingAndGlyphs">10</text><text transform="translate(45.1 115.34) scale(1 1.08)" text-anchor="end" class="s">3</text><rect x="34.5" y="113.19" width="5.0" height="0.75" fill="#111"/><text transform="translate(33.9 119.74) scale(1 1.08)" text-anchor="end" textLength="11.9" lengthAdjust="spacingAndGlyphs">10</text><text transform="translate(45.1 85.56) scale(1 1.08)" text-anchor="end" class="s">2</text><rect x="34.5" y="83.41" width="5.0" height="0.75" fill="#111"/><text transform="translate(33.9 89.96) scale(1 1.08)" text-anchor="end" textLength="11.9" lengthAdjust="spacingAndGlyphs">10</text><text transform="translate(45.1 55.78) scale(1 1.08)" text-anchor="end" class="s">1</text><rect x="34.5" y="53.63" width="5.0" height="0.75" fill="#111"/><text transform="translate(33.9 60.18) scale(1 1.08)" text-anchor="end" textLength="11.9" lengthAdjust="spacingAndGlyphs">10</text><text transform="translate(45.1 26) scale(1 1.08)" text-anchor="end" class="s">0</text><text transform="translate(40.8 30.4) scale(1 1.08)" text-anchor="end" textLength="11.9" lengthAdjust="spacingAndGlyphs">10</text><g transform="translate(12 0) rotate(-90)"><text x="-137.4" y="0">&#934;</text><text x="-125.4" y="0">&#215;</text><text x="-113.2" y="0" font-style="italic">&#963;</text><text x="-106.4" y="0" textLength="17.0" lengthAdjust="spacingAndGlyphs">(10</text><rect x="-86.6" y="-7.4" width="5.3" height="0.75" fill="#111"/><text x="-80.9" y="-5.3" class="s">24</text><text x="-69.3" y="0">GeV</text><rect x="-45.5" y="-7.4" width="5.3" height="0.75" fill="#111"/><text x="-39.2" y="-5.3" class="s">1</text><text x="-33.6" y="0">)</text></g></g>
<clipPath id="c2"><rect x="407.6" y="0.5" width="271.8" height="165.4"/></clipPath>
<g clip-path="url(#c2)">
<path d="M407.44 168.92L407.73 109.22L408.02 136.78L408.31 111.17L408.60 121.59L408.89 115.40L409.18 93.38L409.47 114.52L409.76 105.51L410.05 90.24L410.34 87.91L410.63 87.33L410.92 86.17L411.21 86.38L411.50 93.78L411.79 144.08L412.08 93.39L412.37 82.94L412.66 112.11L412.95 87.74L413.24 87.06L413.53 98.73L413.82 82.74L414.11 98.91L414.40 83.72L414.69 87.69L414.98 94.37L415.27 78.19L415.57 132.96L415.86 80.11L416.15 80.29L416.44 144.94L416.73 77.77L417.02 76.85L417.31 120.12L417.60 82.76L417.89 71.80L418.18 82.09L418.47 133.66L418.76 77.32L419.05 69.43L419.34 76.70L419.63 118.93L419.92 85.39L419.92 85.39L419.95 82.14L419.99 79.39L420.02 77.03L420.06 75.01L420.09 73.27L420.13 71.79L420.16 70.53L420.20 69.47L420.23 68.60L420.27 67.92L420.31 67.40L420.34 67.05L420.38 66.85L420.42 66.82L420.45 66.95L420.49 67.24L420.53 67.69L420.56 68.32L420.60 69.13L420.64 70.14L420.68 71.37L420.72 72.83L420.75 74.55L420.79 76.58L420.83 78.97L420.87 81.80L420.91 85.17L420.95 89.25L420.99 94.32L421.02 100.87L421.06 109.88L421.10 123.91L421.14 150.52L421.18 136.27L421.22 116.42L421.26 105.00L421.30 97.13L421.34 91.17L421.39 86.43L421.43 82.54L421.47 79.27L421.51 76.50L421.55 74.12L421.59 72.07L421.63 70.32L421.68 68.81L421.72 67.53L421.76 66.45L421.80 65.56L421.85 64.86L421.89 64.32L421.93 63.95L421.98 63.74L422.02 63.69L422.06 63.80L422.11 64.07L422.15 64.51L422.20 65.12L422.24 65.92L422.29 66.91L422.33 68.12L422.38 69.56L422.42 71.27L422.47 73.29L422.51 75.67L422.56 78.48L422.61 81.83L422.65 85.90L422.70 90.94L422.75 97.44L422.79 106.35L422.84 120.08L422.89 144.60L422.94 132.60L422.98 113.21L423.03 101.85L423.08 93.99L423.13 88.05L423.18 83.32L423.23 79.44L423.28 76.19L423.33 73.44L423.38 71.08L423.43 69.06L423.48 67.33L423.53 65.85L423.58 64.60L423.63 63.55L423.68 62.69L423.74 62.02L423.79 61.51L423.84 61.17L423.89 60.99L423.94 60.97L424.00 61.11L424.05 61.41L424.10 61.88L424.16 62.53L424.21 63.35L424.27 64.38L424.32 65.61L424.38 67.09L424.43 68.82L424.49 70.86L424.54 73.26L424.60 76.09L424.66 79.45L424.71 83.52L424.77 88.55L424.83 95.01L424.88 103.82L424.94 117.16L425.00 139.21L425.06 129.54L425.12 110.96L425.18 99.70L425.24 91.86L425.30 85.92L425.36 81.20L425.42 77.31L425.48 74.06L425.54 71.29L425.60 68.93L425.66 66.89L425.72 65.14L425.79 63.65L425.85 62.37L425.91 61.30L425.98 60.42L426.04 59.72L426.10 59.19L426.17 58.82L426.23 58.61L426.30 58.56L426.36 58.67L426.43 58.94L426.50 59.38L426.56 59.99L426.63 60.78L426.70 61.76L426.76 62.96L426.83 64.39L426.90 66.08L426.97 68.08L427.04 70.43L427.11 73.20L427.18 76.52L427.25 80.52L427.32 85.47L427.39 91.81L427.46 100.39L427.54 113.09L427.61 131.87L427.68 124.63L427.76 107.49L427.83 96.44L427.90 88.64L427.98 82.71L428.05 77.97L428.13 74.06L428.21 70.79L428.28 68.01L428.36 65.63L428.44 63.58L428.52 61.82L428.59 60.31L428.67 59.03L428.75 57.96L428.83 57.08L428.91 56.37L428.99 55.84L429.08 55.47L429.16 55.27L429.24 55.22L429.32 55.33L429.41 55.61L429.49 56.05L429.58 56.66L429.66 57.46L429.75 58.45L429.83 59.66L429.92 61.09L430.01 62.79L430.09 64.79L430.18 67.14L430.27 69.91L430.36 73.21L430.45 77.18L430.54 82.06L430.63 88.26L430.73 96.49L430.82 108.03L430.91 122.16L431.01 117.58L431.10 103.34L431.20 92.97L431.29 85.41L431.39 79.58L431.49 74.91L431.58 71.04L431.68 67.80L431.78 65.04L431.88 62.67L431.98 60.63L432.08 58.88L432.18 57.37L432.29 56.09L432.39 55.02L432.49 54.13L432.60 53.43L432.70 52.89L432.81 52.51L432.92 52.30L433.02 52.24L433.13 52.34L433.24 52.61L433.35 53.03L433.46 53.63L433.58 54.41L433.69 55.38L433.80 56.56L433.92 57.97L434.03 59.63L434.15 61.58L434.26 63.88L434.38 66.57L434.50 69.76L434.62 73.57L434.74 78.19L434.86 83.89L434.98 91.06L435.11 99.83L435.23 107.51L435.35 105.42L435.48 96.45L435.61 87.99L435.74 81.18L435.86 75.71L435.99 71.21L436.13 67.45L436.26 64.26L436.39 61.53L436.52 59.18L436.66 57.15L436.80 55.40L436.93 53.89L437.07 52.60L437.21 51.52L437.35 50.62L437.49 49.90L437.64 49.35L437.78 48.96L437.93 48.73L438.07 48.65L438.22 48.73L438.37 48.97L438.52 49.37L438.67 49.94L438.83 50.69L438.98 51.63L439.14 52.77L439.29 54.14L439.45 55.76L439.61 57.66L439.77 59.89L439.94 62.51L440.10 65.60L440.26 69.27L440.43 73.67L440.60 79.02L440.77 85.51L440.94 92.94L441.11 98.79L441.29 97.48L441.47 90.44L441.64 82.96L441.82 76.58L442.00 71.30L442.19 66.91L442.37 63.20L442.56 60.04L442.75 57.32L442.94 54.97L443.13 52.93L443.32 51.18L443.52 49.66L443.71 48.37L443.91 47.28L444.11 46.37L444.32 45.65L444.52 45.09L444.73 44.70L444.94 44.46L445.15 44.38L445.36 44.46L445.58 44.70L445.80 45.10L446.02 45.67L446.24 46.42L446.46 47.36L446.69 48.50L446.92 49.87L447.15 51.48L447.38 53.38L447.62 55.60L447.86 58.20L448.10 61.26L448.35 64.89L448.59 69.22L448.84 74.45L449.09 80.70L449.35 87.70L449.61 93.06L449.87 92.02L450.13 85.63L450.40 78.53L450.67 72.34L450.94 67.16L451.22 62.83L451.50 59.16L451.78 56.02L452.06 53.33L452.35 51.00L452.65 48.98L452.94 47.23L453.24 45.73L453.54 44.45L453.85 43.36L454.16 42.46L454.48 41.74L454.79 41.19L455.12 40.79L455.44 40.56L455.77 40.47L456.11 40.55L456.45 40.78L456.79 41.17L457.14 41.73L457.49 42.47L457.84 43.39L458.21 44.51L458.57 45.86L458.94 47.45L459.32 49.32L459.70 51.51L460.08 54.07L460.48 57.09L460.87 60.65L461.27 64.90L461.68 70.00L462.09 76.05L462.51 82.71L462.94 87.73L463.37 86.84L463.81 80.86L464.25 74.01L464.70 67.93L465.16 62.80L465.62 58.48L466.09 54.82L466.57 51.69L467.06 48.99L467.55 46.65L468.05 44.64L468.56 42.89L469.07 41.39L469.60 40.12L470.13 39.05L470.67 38.17L471.22 37.47L471.78 36.95L472.35 36.60L472.93 36.41L473.51 36.39L474.11 36.52L474.72 36.80L475.33 37.25L475.96 37.87L476.60 38.67L477.25 39.65L477.91 40.84L478.59 42.25L479.27 43.91L479.97 45.84L480.68 48.10L481.41 50.72L482.15 53.79L482.90 57.40L483.67 61.65L484.45 66.70L485.25 72.59L486.06 78.88L486.89 83.49L487.73 82.89L488.60 77.68L489.48 71.44L490.38 65.79L491.29 60.99L492.23 56.96L493.19 53.56L494.16 50.67L495.16 48.23L496.19 46.18L497.23 44.47L498.30 43.05L499.39 41.90L500.51 40.98L501.65 40.27L502.82 39.74L502.82 39.25L503.71 39.34L504.59 39.51L505.48 39.75L506.36 40.07L507.25 40.43L508.14 40.85L509.02 41.30L509.91 41.77L510.79 42.27L511.68 42.79L512.56 43.46L513.45 44.25L514.34 45.14L515.22 46.10L516.11 47.10L516.99 48.12L517.88 49.13L518.77 50.17L519.65 51.25L520.54 52.38L521.42 53.57L522.31 54.82L523.19 56.16L524.08 57.58L524.97 59.14L525.85 60.83L526.74 62.62L527.62 64.49L528.51 66.41L529.40 68.36L530.28 70.31L531.17 72.24L532.05 74.21L532.94 76.26L533.82 78.48L534.71 80.92L535.60 83.81L536.48 87.46L537.37 91.32L538.25 94.77L539.14 97.38L540.03 99.91L540.91 102.31L541.80 104.31L542.68 105.66L543.57 106.10L544.45 105.18L545.34 103.13L546.23 100.56L547.11 98.07L548.00 95.99L548.88 93.86L549.77 91.75L550.66 89.79L551.54 88.08L552.43 86.47L553.31 84.93L554.20 83.47L555.08 82.10L555.97 80.86L556.86 79.75L557.74 78.79L558.63 77.94L559.51 77.17L560.40 76.48L561.29 75.84L562.17 75.23L563.06 74.65L563.94 74.09L564.83 73.53L565.71 73.00L566.60 72.50L567.49 72.03L568.37 71.60L569.26 71.22L570.14 70.90L571.03 70.60L571.92 70.31L572.80 70.03L573.69 69.77L574.57 69.53L575.46 69.32L576.34 69.14L577.23 68.98L578.12 68.84L579.00 68.73L579.89 68.63L580.77 68.55L581.66 68.47L582.54 68.39L583.43 68.32L584.32 68.26L585.20 68.21L586.09 68.16L586.97 68.12L587.86 68.09L588.75 68.06L589.63 68.04L590.52 68.02L591.40 68.01L592.29 67.99L593.17 67.98L594.06 67.97L594.95 67.95L595.83 67.94L596.72 67.91L597.60 67.88L598.49 67.84L599.38 67.80L600.26 67.75L601.15 67.70L602.03 67.65L602.92 67.61L603.80 67.57L604.69 67.54L605.58 67.53L606.46 67.53L607.35 67.55L608.23 67.58L609.12 67.63L610.01 67.70L610.89 67.79L611.78 67.89L612.66 68.00L613.55 68.12L614.43 68.24L615.32 68.38L616.21 68.52L617.09 68.66L617.98 68.80L618.86 68.94L619.75 69.09L620.64 69.23L621.52 69.37L622.41 69.51L623.29 69.66L624.18 69.80L625.06 69.95L625.95 70.10L626.84 70.25L627.72 70.40L628.61 70.55L629.49 70.71L630.38 70.87L631.27 71.03L632.15 71.19L633.04 71.35L633.92 71.51L634.81 71.68L635.69 71.85L636.58 72.02L637.47 72.19L638.35 72.36L639.24 72.53L640.12 72.71L641.01 72.89L641.90 73.07L642.78 73.25L643.67 73.43L644.55 73.62L645.44 73.80L646.32 73.99L647.21 74.17L648.10 74.36L648.98 74.55L649.87 74.74L650.75 74.93L651.64 75.11L652.53 75.31L653.41 75.50L654.30 75.69L655.18 75.88L656.07 76.07L656.95 76.27L657.84 76.46L658.73 76.64L659.61 76.83L660.50 77.01L661.38 77.18L662.27 77.35L663.16 77.52L664.04 77.68L664.93 77.83L665.81 77.98L666.70 78.12L667.58 78.25L668.47 78.38L669.36 78.50L670.24 78.62L671.13 78.74L672.01 78.85L672.90 78.95L673.79 79.06L674.67 79.15L675.56 79.25L676.44 79.34L677.33 79.43L678.21 79.51L679.10 79.60" stroke="#000" stroke-width="1.15" fill="none" stroke-linecap="round" stroke-dasharray="0.15 2.05"/>
<path d="M407.22 116.05L407.33 130.29L407.44 134.13L407.55 128.22L407.66 126.24L407.77 129.01L407.88 130.93L407.99 118.69L408.10 105.42L408.22 99.10L408.33 102.78L408.44 124.43L408.55 105.82L408.66 95.93L408.77 113.46L408.88 104.07L408.99 95.08L409.10 124.35L409.21 93.18L409.32 111.07L409.43 94.94L409.54 103.65L409.65 95.19L409.76 103.35L409.87 92.60L409.98 110.18L410.09 89.20L410.20 122.15L410.32 88.86L410.43 101.76L410.54 97.98L410.65 88.15L410.76 120.56L410.87 89.55L410.98 90.57L411.09 119.27L411.20 87.46L411.31 90.01L411.42 120.73L411.53 88.43L411.64 86.28L411.75 112.13L411.86 95.37L411.97 83.55L412.08 92.58L412.19 118.65L412.30 88.34L412.42 82.84L412.53 94.58L412.64 116.99L412.75 88.24L412.86 81.71L412.97 89.14L413.08 117.34L413.19 95.48L413.30 82.19L413.41 82.04L413.52 94.18L413.63 119.62L413.74 91.91L413.85 81.06L413.96 80.66L414.07 89.93L414.18 115.49L414.29 99.39L414.40 83.47L414.52 78.70L414.63 81.36L414.74 92.73L414.85 118.04L414.96 98.15L415.07 83.27L415.18 77.87L415.29 78.56L415.40 85.39L415.51 101.99L415.62 115.37L415.73 91.93L415.84 80.79L415.95 76.43L416.06 76.80L416.17 81.86L416.28 93.58L416.39 115.91L416.50 101.97L416.62 85.62L416.73 77.65L416.84 74.39L416.95 74.73L417.06 78.66L417.17 87.30L417.28 104.09L417.39 113.86L417.50 92.95L417.61 81.17L417.72 74.92L417.83 72.14L417.94 72.11L418.05 74.76L418.16 80.57L418.27 91.13L418.38 109.64L418.49 108.32L418.60 90.14L418.71 79.70L418.83 73.68L418.94 70.47L419.05 69.43L419.16 70.35L419.27 73.33L419.38 78.81L419.49 87.94L419.60 103.24L419.71 113.41L419.82 95.66L419.93 83.20L420.04 75.56L420.15 70.80L420.26 68.04L420.37 66.88L420.48 67.15L420.59 68.86L420.70 72.17L420.81 77.48L420.93 85.67L421.04 98.50L421.15 112.71L421.26 100.73L421.37 86.91L421.48 77.97L421.59 72.01L421.70 68.00L421.81 65.43L421.92 64.04L422.03 63.70L422.14 64.35L422.25 66.04L422.36 68.89L422.47 73.13L422.58 79.23L422.69 88.08L422.80 100.85L422.91 109.56L423.03 97.60L423.14 85.69L423.25 77.46L423.36 71.67L423.47 67.52L423.58 64.57L423.69 62.59L423.80 61.41L423.91 60.96L424.02 61.21L424.13 62.13L424.24 63.77L424.35 66.20L424.46 69.55L424.57 74.05L424.68 80.09L424.79 88.30L424.90 99.23L425.01 107.57L425.13 100.03L425.24 88.99L425.35 80.62L425.46 74.43L425.57 69.77L425.68 66.20L425.79 63.48L425.90 61.45L426.01 60.00L426.12 59.07L426.23 58.62L426.34 58.61L426.45 59.05L426.56 59.94L426.67 61.29L426.78 63.16L426.89 65.61L427.00 68.75L427.11 72.72L427.22 77.77L427.34 84.26L427.45 92.54L427.56 101.59L427.67 103.80L427.78 95.87L427.89 86.94L428.00 79.77L428.11 74.16L428.22 69.71L428.33 66.15L428.44 63.28L428.55 60.96L428.66 59.12L428.77 57.68L428.88 56.59L428.99 55.84L429.10 55.38L429.21 55.22L429.32 55.33L429.44 55.72L429.55 56.39L429.66 57.35L429.77 58.62L429.88 60.21L429.99 62.17L430.10 64.54L430.21 67.40L430.32 70.83L430.43 74.97L430.54 79.99L430.65 86.10L430.76 93.22L430.87 99.79L430.98 100.88L431.09 95.25L431.20 88.02L431.31 81.62L431.42 76.32L431.54 71.95L431.65 68.31L431.76 65.25L431.87 62.67L431.98 60.49L432.09 58.64L432.20 57.08L432.31 55.78L432.42 54.70L432.53 53.84L432.64 53.18L432.75 52.70L432.86 52.39L432.97 52.25L433.08 52.27L433.19 52.46L433.30 52.81L433.41 53.31L433.52 53.99L433.64 54.84L433.75 55.86L433.86 57.08L433.97 58.51L434.08 60.16L434.19 62.07L434.30 64.26L434.41 66.77L434.52 69.66L434.63 73.00L434.74 76.86L434.85 81.32L434.96 86.40L435.07 91.79L435.18 96.34L435.29 97.68L435.40 94.79L435.51 89.70L435.62 84.37L435.73 79.53L435.85 75.31L435.96 71.65L436.07 68.48L436.18 65.71L436.29 63.28L436.40 61.14L436.51 59.25L436.62 57.58L436.73 56.10L436.84 54.80L436.95 53.65L437.06 52.65L437.17 51.77L437.28 51.02L437.39 50.38L437.50 49.85L437.61 49.42L437.72 49.09L437.83 48.85L437.95 48.71L438.06 48.65L438.17 48.68L438.28 48.80L438.39 49.00L438.50 49.29L438.61 49.66L438.72 50.12L438.72 50.12L438.87 50.91L439.03 51.89L439.18 53.07L439.34 54.48L439.50 56.14L439.66 58.07L439.82 60.33L439.98 62.97L440.15 66.05L440.31 69.67L440.48 73.92L440.65 78.89L440.82 84.46L440.99 89.81L441.16 92.50L441.34 90.32L441.51 84.98L441.69 79.14L441.87 73.83L442.05 69.24L442.23 65.31L442.42 61.92L442.60 59.00L442.79 56.46L442.98 54.26L443.17 52.35L443.37 50.69L443.56 49.26L443.76 48.04L443.96 47.01L444.16 46.16L444.36 45.49L444.57 44.98L444.78 44.63L444.99 44.43L445.20 44.39L445.41 44.50L445.63 44.76L445.84 45.19L446.06 45.79L446.29 46.55L446.51 47.51L446.74 48.66L446.97 50.03L447.20 51.64L447.43 53.51L447.67 55.69L447.91 58.22L448.15 61.15L448.39 64.55L448.64 68.48L448.89 72.96L449.14 77.81L449.40 82.30L449.66 84.70L449.92 83.42L450.18 79.29L450.45 74.24L450.72 69.39L450.99 65.04L451.27 61.25L451.55 57.95L451.83 55.08L452.11 52.58L452.40 50.40L452.70 48.50L452.99 46.84L453.29 45.42L453.59 44.20L453.90 43.17L454.21 42.31L454.53 41.63L454.84 41.11L455.17 40.74L455.49 40.53L455.82 40.48L456.16 40.57L456.49 40.82L456.84 41.22L457.18 41.79L457.54 42.54L457.89 43.47L458.25 44.59L458.62 45.94L458.99 47.52L459.37 49.37L459.75 51.53L460.13 54.05L460.52 56.98L460.92 60.41L461.32 64.42L461.73 69.07L462.14 74.27L462.56 79.39L462.99 82.54L463.42 81.49L463.85 76.97L464.30 71.43L464.75 66.19L465.21 61.58L465.67 57.59L466.14 54.14L466.62 51.16L467.10 48.58L467.59 46.33L468.09 44.38L468.60 42.69L469.12 41.23L469.64 39.99L470.17 38.95L470.71 38.10L471.26 37.42L471.82 36.92L472.39 36.58L472.97 36.41L473.55 36.39L474.15 36.53L474.76 36.82L475.37 37.28L476.00 37.90L476.64 38.70L477.29 39.69L477.95 40.88L478.62 42.29L479.31 43.94L480.01 45.87L480.72 48.11L481.44 50.72L482.18 53.76L482.93 57.32L483.70 61.49L484.48 66.40L485.28 72.02L486.09 77.84L486.91 81.91L487.76 81.28L488.62 76.55L489.50 70.73L490.40 65.34L491.31 60.70L492.25 56.76L493.20 53.42L494.18 50.57L495.18 48.16L496.20 46.13L497.24 44.44L498.31 43.03L499.40 41.89L500.51 40.97L501.65 40.26L502.82 39.74L502.82 39.25L503.71 39.34L504.59 39.51L505.48 39.75L506.36 40.07L507.25 40.43L508.14 40.85L509.02 41.30L509.91 41.77L510.79 42.27L511.68 42.80L512.56 43.46L513.45 44.26L514.34 45.15L515.22 46.11L516.11 47.11L516.99 48.12L517.88 49.13L518.77 50.15L519.65 51.21L520.54 52.31L521.42 53.47L522.31 54.70L523.19 56.00L524.08 57.38L524.97 58.90L525.85 60.54L526.74 62.27L527.62 64.08L528.51 65.94L529.40 67.81L530.28 69.71L531.17 71.74L532.05 73.86L532.94 76.00L533.82 78.08L534.71 80.01L535.60 81.77L536.48 83.50L537.37 85.16L538.25 86.71L539.14 88.11L540.03 89.33L540.91 90.50L541.80 91.66L542.68 92.56L543.57 92.99L544.45 92.93L545.34 92.70L546.23 92.35L547.11 91.94L548.00 91.44L548.88 90.69L549.77 89.76L550.66 88.74L551.54 87.71L552.43 86.77L553.31 85.88L554.20 84.98L555.08 84.08L555.97 83.19L556.86 82.32L557.74 81.47L558.63 80.67L559.51 79.88L560.40 79.10L561.29 78.33L562.17 77.59L563.06 76.89L563.94 76.24L564.83 75.66L565.71 75.12L566.60 74.60L567.49 74.11L568.37 73.67L569.26 73.30L570.14 72.99L571.03 72.72L571.92 72.46L572.80 72.22L573.69 71.99L574.57 71.79L575.46 71.61L576.34 71.45L577.23 71.31L578.12 71.19L579.00 71.09L579.89 71.00L580.77 70.92L581.66 70.84L582.54 70.77L583.43 70.70L584.32 70.64L585.20 70.59L586.09 70.55L586.97 70.51L587.86 70.47L588.75 70.44L589.63 70.42L590.52 70.40L591.40 70.39L592.29 70.38L593.17 70.36L594.06 70.35L594.95 70.34L595.83 70.32L596.72 70.29L597.60 70.26L598.49 70.22L599.38 70.18L600.26 70.13L601.15 70.09L602.03 70.04L602.92 70.00L603.80 69.97L604.69 69.95L605.58 69.96L606.46 69.98L607.35 70.03L608.23 70.11L609.12 70.21L610.01 70.34L610.89 70.49L611.78 70.67L612.66 70.86L613.55 71.07L614.43 71.28L615.32 71.50L616.21 71.73L617.09 71.94L617.98 72.16L618.86 72.36L619.75 72.56L620.64 72.74L621.52 72.92L622.41 73.08L623.29 73.24L624.18 73.40L625.06 73.54L625.95 73.69L626.84 73.83L627.72 73.97L628.61 74.10L629.49 74.24L630.38 74.37L631.27 74.50L632.15 74.64L633.04 74.77L633.92 74.91L634.81 75.04L635.69 75.18L636.58 75.31L637.47 75.45L638.35 75.58L639.24 75.72L640.12 75.86L641.01 76.00L641.90 76.14L642.78 76.28L643.67 76.42L644.55 76.56L645.44 76.70L646.32 76.85L647.21 76.99L648.10 77.14L648.98 77.30L649.87 77.46L650.75 77.62L651.64 77.78L652.53 77.95L653.41 78.13L654.30 78.30L655.18 78.48L656.07 78.67L656.95 78.85L657.84 79.04L658.73 79.22L659.61 79.41L660.50 79.59L661.38 79.78L662.27 79.96L663.16 80.14L664.04 80.31L664.93 80.49L665.81 80.66L666.70 80.82L667.58 80.98L668.47 81.14L669.36 81.30L670.24 81.45L671.13 81.60L672.01 81.75L672.90 81.90L673.79 82.04L674.67 82.19L675.56 82.33L676.44 82.46L677.33 82.60L678.21 82.74L679.10 82.88" stroke="#000" stroke-width="1.25" fill="none" stroke-linejoin="round"/>
<path d="M407.22 115.95L407.90 111.96L408.58 109.77L409.27 108.09L409.95 106.65L410.63 105.42L411.31 104.38L411.99 103.49L412.67 102.73L413.35 102.06L414.03 101.46L414.72 100.88L415.40 100.34L416.08 99.83L416.76 99.36L417.44 98.93L418.12 98.55L418.80 98.21L419.49 97.92L420.17 97.69L420.85 97.51L421.53 97.37L422.21 97.24L422.89 97.12L423.57 97.01L424.26 96.90L424.94 96.81L425.62 96.73L426.30 96.67L426.98 96.62L427.66 96.59L428.34 96.57L429.03 96.58L429.71 96.60L430.39 96.63L431.07 96.69L431.75 96.75L432.43 96.82L433.11 96.90L433.80 96.97L434.48 97.06L435.16 97.14L435.84 97.23L436.52 97.33L437.20 97.43L437.88 97.55L438.57 97.67L439.25 97.78L439.93 97.91L440.61 98.04L441.29 98.17L441.97 98.31L442.65 98.45L443.34 98.60L444.02 98.76L444.70 98.92L445.38 99.08L446.06 99.24L446.74 99.41L447.42 99.58L448.10 99.76L448.79 99.93L449.47 100.11L450.15 100.29L450.83 100.47L451.51 100.66L452.19 100.85L452.87 101.04L453.56 101.23L454.24 101.42L454.92 101.62L455.60 101.82L456.28 102.02L456.96 102.22L457.64 102.42L458.33 102.63L459.01 102.83L459.69 103.04L460.37 103.25L461.05 103.47L461.73 103.68L462.41 103.90L463.10 104.12L463.78 104.35L464.46 104.58L465.14 104.82L465.82 105.07L466.50 105.32L467.18 105.57L467.87 105.84L468.55 106.11L469.23 106.38L469.91 106.66L470.59 106.95L471.27 107.25L471.95 107.55L472.64 107.86L473.32 108.17L474.00 108.49L474.68 108.81L475.36 109.14L476.04 109.48L476.72 109.81L477.41 110.16L478.09 110.51L478.77 110.86L479.45 111.21L480.13 111.58L480.81 111.94L481.49 112.31L482.17 112.68L482.86 113.06L483.54 113.44L484.22 113.82L484.90 114.20L485.58 114.59L486.26 114.98L486.94 115.37L487.63 115.76L488.31 116.16L488.99 116.55L489.67 116.95L490.35 117.34L491.03 117.74L491.71 118.14L492.40 118.54L493.08 118.95L493.76 119.35L494.44 119.75L495.12 120.16L495.80 120.57L496.48 120.97L497.17 121.38L497.85 121.79L498.53 122.20L499.21 122.61L499.89 123.02L500.57 123.43L501.25 123.83L501.94 124.24L502.62 124.64L503.30 125.04L503.98 125.44L504.66 125.83L505.34 126.23L506.02 126.61L506.71 127.00L507.39 127.38L508.07 127.76L508.75 128.13L509.43 128.50L510.11 128.86L510.79 129.23L511.48 129.59L512.16 129.94L512.84 130.30L513.52 130.65L514.20 131.00L514.88 131.35L515.56 131.70L516.25 132.05L516.93 132.40L517.61 132.75L518.29 133.11L518.97 133.46L519.65 133.81L520.33 134.17L521.01 134.52L521.70 134.88L522.38 135.24L523.06 135.59L523.74 135.94L524.42 136.30L525.10 136.64L525.78 136.99L526.47 137.33L527.15 137.67L527.83 138.00L528.51 138.32L529.19 138.64L529.87 138.95L530.55 139.26L531.24 139.56L531.92 139.85L532.60 140.13L533.28 140.41L533.96 140.69L534.64 140.95L535.32 141.21L536.01 141.46L536.69 141.71L537.37 141.95L538.05 142.18L538.73 142.41L539.41 142.63L540.09 142.85L540.78 143.07L541.46 143.28L542.14 143.48L542.82 143.68L543.50 143.88L544.18 144.08L544.86 144.27L545.55 144.46L546.23 144.64L546.91 144.83L547.59 145.01L548.27 145.19L548.95 145.37L549.63 145.54L550.32 145.72L551.00 145.89L551.68 146.06L552.36 146.23L553.04 146.39L553.72 146.56L554.40 146.72L555.08 146.88L555.77 147.04L556.45 147.20L557.13 147.35L557.81 147.50L558.49 147.66L559.17 147.81L559.85 147.96L560.54 148.10L561.22 148.25L561.90 148.40L562.58 148.54L563.26 148.69L563.94 148.83L564.62 148.97L565.31 149.12L565.99 149.26L566.67 149.40L567.35 149.54L568.03 149.68L568.71 149.82L569.39 149.96L570.08 150.09L570.76 150.23L571.44 150.36L572.12 150.50L572.80 150.63L573.48 150.77L574.16 150.90L574.85 151.03L575.53 151.16L576.21 151.29L576.89 151.41L577.57 151.54L578.25 151.67L578.93 151.79L579.62 151.92L580.30 152.04L580.98 152.17L581.66 152.29L582.34 152.42L583.02 152.54L583.70 152.66L584.39 152.79L585.07 152.91L585.75 153.03L586.43 153.15L587.11 153.27L587.79 153.39L588.47 153.51L589.16 153.63L589.84 153.75L590.52 153.86L591.20 153.98L591.88 154.09L592.56 154.21L593.24 154.32L593.92 154.44L594.61 154.55L595.29 154.66L595.97 154.77L596.65 154.88L597.33 154.99L598.01 155.09L598.69 155.20L599.38 155.31L600.06 155.41L600.74 155.52L601.42 155.62L602.10 155.73L602.78 155.83L603.46 155.93L604.15 156.04L604.83 156.14L605.51 156.24L606.19 156.34L606.87 156.44L607.55 156.54L608.23 156.64L608.92 156.74L609.60 156.84L610.28 156.94L610.96 157.04L611.64 157.14L612.32 157.23L613.00 157.33L613.69 157.43L614.37 157.53L615.05 157.62L615.73 157.72L616.41 157.82L617.09 157.91L617.77 158.01L618.46 158.10L619.14 158.20L619.82 158.30L620.50 158.39L621.18 158.49L621.86 158.58L622.54 158.68L623.23 158.77L623.91 158.87L624.59 158.96L625.27 159.06L625.95 159.15L626.63 159.25L627.31 159.34L627.99 159.44L628.68 159.53L629.36 159.63L630.04 159.73L630.72 159.82L631.40 159.92L632.08 160.01L632.76 160.11L633.45 160.20L634.13 160.30L634.81 160.39L635.49 160.49L636.17 160.59L636.85 160.68L637.53 160.78L638.22 160.87L638.90 160.97L639.58 161.06L640.26 161.15L640.94 161.25L641.62 161.34L642.30 161.44L642.99 161.53L643.67 161.62L644.35 161.72L645.03 161.81L645.71 161.90L646.39 161.99L647.07 162.09L647.76 162.18L648.44 162.27L649.12 162.36L649.80 162.45L650.48 162.54L651.16 162.63L651.84 162.72L652.53 162.81L653.21 162.90L653.89 162.98L654.57 163.07L655.25 163.16L655.93 163.24L656.61 163.33L657.30 163.42L657.98 163.50L658.66 163.58L659.34 163.67L660.02 163.75L660.70 163.84L661.38 163.92L662.06 164.00L662.75 164.09L663.43 164.17L664.11 164.25L664.79 164.33L665.47 164.41L666.15 164.49L666.83 164.57L667.52 164.65L668.20 164.73L668.88 164.81L669.56 164.89L670.24 164.97L670.92 165.05L671.60 165.12L672.29 165.20L672.97 165.28L673.65 165.36L674.33 165.43L675.01 165.51L675.69 165.58L676.37 165.66L677.06 165.74L677.74 165.81L678.42 165.89L679.10 165.96" stroke="#f00" stroke-width="1.15" fill="none" stroke-linecap="round" stroke-dasharray="0.15 2.05"/>
<path d="M407.22 113.08L407.90 109.28L408.58 106.05L409.27 102.96L409.95 100.39L410.63 98.81L411.31 97.84L411.99 97.08L412.67 96.49L413.35 96.05L414.03 95.70L414.72 95.36L415.40 95.05L416.08 94.75L416.76 94.48L417.44 94.24L418.12 94.03L418.80 93.86L419.49 93.72L420.17 93.64L420.85 93.60L421.53 93.60L422.21 93.62L422.89 93.65L423.57 93.70L424.26 93.75L424.94 93.81L425.62 93.88L426.30 93.95L426.98 94.03L427.66 94.10L428.34 94.18L429.03 94.25L429.71 94.33L430.39 94.42L431.07 94.53L431.75 94.64L432.43 94.76L433.11 94.88L433.80 95.01L434.48 95.15L435.16 95.29L435.84 95.44L436.52 95.60L437.20 95.76L437.88 95.94L438.57 96.11L439.25 96.29L439.93 96.47L440.61 96.66L441.29 96.85L441.97 97.04L442.65 97.24L443.34 97.45L444.02 97.65L444.70 97.86L445.38 98.08L446.06 98.29L446.74 98.51L447.42 98.73L448.10 98.95L448.79 99.17L449.47 99.39L450.15 99.61L450.83 99.83L451.51 100.05L452.19 100.27L452.87 100.49L453.56 100.71L454.24 100.94L454.92 101.16L455.60 101.38L456.28 101.61L456.96 101.84L457.64 102.06L458.33 102.29L459.01 102.53L459.69 102.76L460.37 103.00L461.05 103.24L461.73 103.48L462.41 103.73L463.10 103.97L463.78 104.23L464.46 104.48L465.14 104.74L465.82 105.00L466.50 105.27L467.18 105.54L467.87 105.82L468.55 106.10L469.23 106.39L469.91 106.67L470.59 106.97L471.27 107.27L471.95 107.57L472.64 107.88L473.32 108.19L474.00 108.51L474.68 108.83L475.36 109.16L476.04 109.49L476.72 109.82L477.41 110.16L478.09 110.51L478.77 110.86L479.45 111.22L480.13 111.58L480.81 111.94L481.49 112.31L482.17 112.68L482.86 113.06L483.54 113.44L484.22 113.82L484.90 114.20L485.58 114.59L486.26 114.98L486.94 115.37L487.63 115.76L488.31 116.16L488.99 116.55L489.67 116.95L490.35 117.35L491.03 117.74L491.71 118.14L492.40 118.55L493.08 118.95L493.76 119.35L494.44 119.76L495.12 120.17L495.80 120.57L496.48 120.98L497.17 121.39L497.85 121.80L498.53 122.21L499.21 122.62L499.89 123.03L500.57 123.44L501.25 123.85L501.94 124.25L502.62 124.65L503.30 125.05L503.98 125.45L504.66 125.84L505.34 126.23L506.02 126.62L506.71 127.00L507.39 127.38L508.07 127.76L508.75 128.13L509.43 128.49L510.11 128.86L510.79 129.22L511.48 129.57L512.16 129.92L512.84 130.27L513.52 130.62L514.20 130.96L514.88 131.30L515.56 131.64L516.25 131.97L516.93 132.30L517.61 132.63L518.29 132.96L518.97 133.28L519.65 133.61L520.33 133.93L521.01 134.25L521.70 134.56L522.38 134.87L523.06 135.18L523.74 135.48L524.42 135.78L525.10 136.07L525.78 136.36L526.47 136.64L527.15 136.91L527.83 137.18L528.51 137.44L529.19 137.69L529.87 137.93L530.55 138.17L531.24 138.40L531.92 138.62L532.60 138.84L533.28 139.04L533.96 139.25L534.64 139.44L535.32 139.63L536.01 139.81L536.69 139.99L537.37 140.17L538.05 140.33L538.73 140.50L539.41 140.66L540.09 140.81L540.78 140.96L541.46 141.11L542.14 141.25L542.82 141.39L543.50 141.53L544.18 141.67L544.86 141.80L545.55 141.93L546.23 142.06L546.91 142.18L547.59 142.31L548.27 142.43L548.95 142.55L549.63 142.67L550.32 142.79L551.00 142.91L551.68 143.03L552.36 143.15L553.04 143.27L553.72 143.39L554.40 143.52L555.08 143.64L555.77 143.76L556.45 143.89L557.13 144.01L557.81 144.14L558.49 144.27L559.17 144.40L559.85 144.53L560.54 144.66L561.22 144.80L561.90 144.93L562.58 145.07L563.26 145.20L563.94 145.34L564.62 145.48L565.31 145.62L565.99 145.76L566.67 145.90L567.35 146.04L568.03 146.18L568.71 146.32L569.39 146.45L570.08 146.59L570.76 146.73L571.44 146.87L572.12 147.00L572.80 147.14L573.48 147.27L574.16 147.41L574.85 147.54L575.53 147.67L576.21 147.80L576.89 147.94L577.57 148.07L578.25 148.20L578.93 148.34L579.62 148.48L580.30 148.61L580.98 148.75L581.66 148.89L582.34 149.04L583.02 149.18L583.70 149.33L584.39 149.47L585.07 149.62L585.75 149.77L586.43 149.92L587.11 150.07L587.79 150.22L588.47 150.37L589.16 150.52L589.84 150.67L590.52 150.82L591.20 150.96L591.88 151.11L592.56 151.26L593.24 151.40L593.92 151.54L594.61 151.68L595.29 151.82L595.97 151.96L596.65 152.09L597.33 152.23L598.01 152.36L598.69 152.49L599.38 152.62L600.06 152.75L600.74 152.88L601.42 153.00L602.10 153.13L602.78 153.26L603.46 153.38L604.15 153.50L604.83 153.63L605.51 153.75L606.19 153.87L606.87 153.99L607.55 154.11L608.23 154.23L608.92 154.35L609.60 154.47L610.28 154.59L610.96 154.70L611.64 154.82L612.32 154.94L613.00 155.06L613.69 155.17L614.37 155.29L615.05 155.40L615.73 155.52L616.41 155.63L617.09 155.75L617.77 155.86L618.46 155.98L619.14 156.09L619.82 156.21L620.50 156.32L621.18 156.44L621.86 156.55L622.54 156.67L623.23 156.78L623.91 156.90L624.59 157.02L625.27 157.13L625.95 157.25L626.63 157.36L627.31 157.48L627.99 157.60L628.68 157.71L629.36 157.83L630.04 157.95L630.72 158.06L631.40 158.18L632.08 158.30L632.76 158.41L633.45 158.53L634.13 158.65L634.81 158.77L635.49 158.88L636.17 159.00L636.85 159.12L637.53 159.24L638.22 159.35L638.90 159.47L639.58 159.59L640.26 159.71L640.94 159.82L641.62 159.94L642.30 160.06L642.99 160.17L643.67 160.29L644.35 160.41L645.03 160.52L645.71 160.64L646.39 160.76L647.07 160.87L647.76 160.99L648.44 161.10L649.12 161.22L649.80 161.33L650.48 161.44L651.16 161.56L651.84 161.67L652.53 161.78L653.21 161.90L653.89 162.01L654.57 162.12L655.25 162.23L655.93 162.34L656.61 162.45L657.30 162.57L657.98 162.68L658.66 162.79L659.34 162.90L660.02 163.00L660.70 163.11L661.38 163.22L662.06 163.33L662.75 163.44L663.43 163.55L664.11 163.66L664.79 163.76L665.47 163.87L666.15 163.98L666.83 164.08L667.52 164.19L668.20 164.30L668.88 164.40L669.56 164.51L670.24 164.61L670.92 164.72L671.60 164.82L672.29 164.93L672.97 165.03L673.65 165.14L674.33 165.24L675.01 165.34L675.69 165.45L676.37 165.55L677.06 165.65L677.74 165.76L678.42 165.86L679.10 165.96" stroke="#f00" stroke-width="1.25" fill="none"/>
</g>
<path d="M408.33 165.9v-2.9M408.33 0.5v2.9M413.85 165.9v-2.9M413.85 0.5v2.9M419.38 165.9v-2.9M419.38 0.5v2.9M424.9 165.9v-2.9M424.9 0.5v2.9M430.43 165.9v-4.1M430.43 0.5v4.1M435.96 165.9v-2.9M435.96 0.5v2.9M441.48 165.9v-2.9M441.48 0.5v2.9M447.01 165.9v-2.9M447.01 0.5v2.9M452.53 165.9v-2.9M452.53 0.5v2.9M458.06 165.9v-4.1M458.06 0.5v4.1M463.59 165.9v-2.9M463.59 0.5v2.9M469.11 165.9v-2.9M469.11 0.5v2.9M474.64 165.9v-2.9M474.64 0.5v2.9M480.16 165.9v-2.9M480.16 0.5v2.9M485.69 165.9v-4.1M485.69 0.5v4.1M491.22 165.9v-2.9M491.22 0.5v2.9M496.74 165.9v-2.9M496.74 0.5v2.9M502.27 165.9v-2.9M502.27 0.5v2.9M507.79 165.9v-2.9M507.79 0.5v2.9M513.32 165.9v-4.1M513.32 0.5v4.1M518.85 165.9v-2.9M518.85 0.5v2.9M524.37 165.9v-2.9M524.37 0.5v2.9M529.9 165.9v-2.9M529.9 0.5v2.9M535.42 165.9v-2.9M535.42 0.5v2.9M540.95 165.9v-4.1M540.95 0.5v4.1M546.48 165.9v-2.9M546.48 0.5v2.9M552 165.9v-2.9M552 0.5v2.9M557.53 165.9v-2.9M557.53 0.5v2.9M563.05 165.9v-2.9M563.05 0.5v2.9M568.58 165.9v-4.1M568.58 0.5v4.1M574.11 165.9v-2.9M574.11 0.5v2.9M579.63 165.9v-2.9M579.63 0.5v2.9M585.16 165.9v-2.9M585.16 0.5v2.9M590.68 165.9v-2.9M590.68 0.5v2.9M596.21 165.9v-4.1M596.21 0.5v4.1M601.74 165.9v-2.9M601.74 0.5v2.9M607.26 165.9v-2.9M607.26 0.5v2.9M612.79 165.9v-2.9M612.79 0.5v2.9M618.31 165.9v-2.9M618.31 0.5v2.9M623.84 165.9v-4.1M623.84 0.5v4.1M629.37 165.9v-2.9M629.37 0.5v2.9M634.89 165.9v-2.9M634.89 0.5v2.9M640.42 165.9v-2.9M640.42 0.5v2.9M645.94 165.9v-2.9M645.94 0.5v2.9M651.47 165.9v-4.1M651.47 0.5v4.1M657 165.9v-2.9M657 0.5v2.9M662.52 165.9v-2.9M662.52 0.5v2.9M668.05 165.9v-2.9M668.05 0.5v2.9M673.57 165.9v-2.9M673.57 0.5v2.9M407.6 160h3M679.4 160h-3M407.6 154.93h3M679.4 154.93h-3M407.6 151.34h3M679.4 151.34h-3M407.6 148.55h3M679.4 148.55h-3M407.6 146.28h3M679.4 146.28h-3M407.6 144.35h3M679.4 144.35h-3M407.6 142.69h3M679.4 142.69h-3M407.6 141.22h3M679.4 141.22h-3M407.6 139.9h4.3M679.4 139.9h-4.3M407.6 131.25h3M679.4 131.25h-3M407.6 126.18h3M679.4 126.18h-3M407.6 122.59h3M679.4 122.59h-3M407.6 119.8h3M679.4 119.8h-3M407.6 117.53h3M679.4 117.53h-3M407.6 115.6h3M679.4 115.6h-3M407.6 113.94h3M679.4 113.94h-3M407.6 112.47h3M679.4 112.47h-3M407.6 111.15h4.3M679.4 111.15h-4.3M407.6 102.5h3M679.4 102.5h-3M407.6 97.43h3M679.4 97.43h-3M407.6 93.84h3M679.4 93.84h-3M407.6 91.05h3M679.4 91.05h-3M407.6 88.78h3M679.4 88.78h-3M407.6 86.85h3M679.4 86.85h-3M407.6 85.19h3M679.4 85.19h-3M407.6 83.72h3M679.4 83.72h-3M407.6 82.4h4.3M679.4 82.4h-4.3M407.6 73.75h3M679.4 73.75h-3M407.6 68.68h3M679.4 68.68h-3M407.6 65.09h3M679.4 65.09h-3M407.6 62.3h3M679.4 62.3h-3M407.6 60.03h3M679.4 60.03h-3M407.6 58.1h3M679.4 58.1h-3M407.6 56.44h3M679.4 56.44h-3M407.6 54.97h3M679.4 54.97h-3M407.6 53.65h4.3M679.4 53.65h-4.3M407.6 45h3M679.4 45h-3M407.6 39.93h3M679.4 39.93h-3M407.6 36.34h3M679.4 36.34h-3M407.6 33.55h3M679.4 33.55h-3M407.6 31.28h3M679.4 31.28h-3M407.6 29.35h3M679.4 29.35h-3M407.6 27.69h3M679.4 27.69h-3M407.6 26.22h3M679.4 26.22h-3M407.6 24.9h4.3M679.4 24.9h-4.3M407.6 16.25h3M679.4 16.25h-3M407.6 11.18h3M679.4 11.18h-3M407.6 7.59h3M679.4 7.59h-3M407.6 4.8h3M679.4 4.8h-3M407.6 2.53h3M679.4 2.53h-3" stroke="#3c3c3c" stroke-width="0.95" fill="none"/>
<rect x="407.6" y="0.5" width="271.8" height="165.4" fill="none" stroke="#3a3a3a" stroke-width="1.05"/>
<g class="t" opacity="0.999"><text transform="translate(430.43 177.8) scale(1 1.08)" text-anchor="middle">1</text><text transform="translate(458.06 177.8) scale(1 1.08)" text-anchor="middle">2</text><text transform="translate(485.69 177.8) scale(1 1.08)" text-anchor="middle">3</text><text transform="translate(513.32 177.8) scale(1 1.08)" text-anchor="middle">4</text><text transform="translate(540.95 177.8) scale(1 1.08)" text-anchor="middle">5</text><text transform="translate(568.58 177.8) scale(1 1.08)" text-anchor="middle">6</text><text transform="translate(596.21 177.8) scale(1 1.08)" text-anchor="middle">7</text><text transform="translate(623.84 177.8) scale(1 1.08)" text-anchor="middle">8</text><text transform="translate(651.47 177.8) scale(1 1.08)" text-anchor="middle">9</text><text transform="translate(679.1 177.8) scale(1 1.08)" text-anchor="middle">10</text><text transform="translate(518.6 194.3) scale(1 1.08)">E</text><text x="526.2" y="196.5" class="s" font-style="italic" transform="skewX(0)">&#957;</text><text transform="translate(536.4 194.3) scale(1 1.08)" textLength="31" lengthAdjust="spacingAndGlyphs">(GeV)</text><text transform="translate(404.1 140.5) scale(1 1.08)" text-anchor="end" class="s">4</text><rect x="393.5" y="138.35" width="5.0" height="0.75" fill="#111"/><text transform="translate(392.9 144.9) scale(1 1.08)" text-anchor="end" textLength="11.9" lengthAdjust="spacingAndGlyphs">10</text><text transform="translate(404.1 111.75) scale(1 1.08)" text-anchor="end" class="s">3</text><rect x="393.5" y="109.6" width="5.0" height="0.75" fill="#111"/><text transform="translate(392.9 116.15) scale(1 1.08)" text-anchor="end" textLength="11.9" lengthAdjust="spacingAndGlyphs">10</text><text transform="translate(404.1 83) scale(1 1.08)" text-anchor="end" class="s">2</text><rect x="393.5" y="80.85" width="5.0" height="0.75" fill="#111"/><text transform="translate(392.9 87.4) scale(1 1.08)" text-anchor="end" textLength="11.9" lengthAdjust="spacingAndGlyphs">10</text><text transform="translate(404.1 54.25) scale(1 1.08)" text-anchor="end" class="s">1</text><rect x="393.5" y="52.1" width="5.0" height="0.75" fill="#111"/><text transform="translate(392.9 58.65) scale(1 1.08)" text-anchor="end" textLength="11.9" lengthAdjust="spacingAndGlyphs">10</text><text transform="translate(404.1 25.5) scale(1 1.08)" text-anchor="end" class="s">0</text><text transform="translate(399.8 29.9) scale(1 1.08)" text-anchor="end" textLength="11.9" lengthAdjust="spacingAndGlyphs">10</text><g transform="translate(371 0) rotate(-90)"><text x="-137.4" y="0">&#934;</text><text x="-125.4" y="0">&#215;</text><text x="-113.2" y="0" font-style="italic">&#963;</text><text x="-106.4" y="0" textLength="17.0" lengthAdjust="spacingAndGlyphs">(10</text><rect x="-86.6" y="-7.4" width="5.3" height="0.75" fill="#111"/><text x="-80.9" y="-5.3" class="s">24</text><text x="-69.3" y="0">GeV</text><rect x="-45.5" y="-7.4" width="5.3" height="0.75" fill="#111"/><text x="-39.2" y="-5.3" class="s">1</text><text x="-33.6" y="0">)</text></g></g>
<clipPath id="c3"><rect x="48.6" y="203.5" width="271.8" height="165.4"/></clipPath>
<g clip-path="url(#c3)">
<path d="M48.22 305.05L48.33 300.30L48.44 298.70L48.55 297.95L48.66 296.65L48.77 294.67L48.88 292.75L48.99 292.30L49.10 294.65L49.22 297.31L49.33 291.92L49.44 284.98L49.55 287.26L49.66 292.30L49.77 283.02L49.88 284.33L49.99 288.45L50.10 279.22L50.21 287.53L50.32 278.90L50.43 283.64L50.54 278.83L50.65 281.45L50.76 277.34L50.87 281.26L50.98 274.64L51.09 282.20L51.20 272.35L51.32 280.46L51.43 273.25L51.54 273.51L51.65 278.05L51.76 268.89L51.87 274.89L51.98 273.24L52.09 266.58L52.20 273.41L52.31 270.63L52.42 264.05L52.53 269.62L52.64 270.18L52.75 262.01L52.86 263.75L52.97 269.58L53.08 262.94L53.19 258.50L53.30 263.11L53.42 266.31L53.53 259.13L53.64 255.77L53.75 260.06L53.86 264.05L53.97 258.35L54.08 253.54L54.19 255.27L54.30 260.82L54.41 260.32L54.52 254.07L54.63 251.17L54.74 253.70L54.85 258.75L54.96 258.51L55.07 252.91L55.18 249.26L55.29 250.07L55.40 254.35L55.52 257.57L55.63 254.77L55.74 249.68L55.85 247.04L55.96 248.02L56.07 251.81L56.18 255.28L56.29 254.16L56.40 249.67L56.51 245.99L56.62 244.98L56.73 246.76L56.84 250.40L56.95 253.31L57.06 252.49L57.17 248.68L57.28 244.97L57.39 243.10L57.50 243.49L57.61 245.86L57.73 249.21L57.84 251.46L57.95 250.66L58.06 247.43L58.17 243.96L58.28 241.69L58.39 241.10L58.50 242.21L58.61 244.66L58.72 247.59L58.83 249.53L58.94 249.13L59.05 246.64L59.16 243.50L59.27 240.92L59.38 239.47L59.49 239.33L59.60 240.44L59.71 242.55L59.83 245.10L59.94 247.20L60.05 247.82L60.16 246.59L60.27 244.14L60.38 241.45L60.49 239.24L60.60 237.85L60.71 237.42L60.82 237.94L60.93 239.30L61.04 241.27L61.15 243.46L61.26 245.26L61.37 246.01L61.48 245.40L61.59 243.66L61.70 241.39L61.81 239.16L61.93 237.34L62.04 236.12L62.15 235.59L62.26 235.75L62.37 236.56L62.48 237.91L62.59 239.63L62.70 241.48L62.81 243.07L62.92 244.00L63.03 244.01L63.14 243.07L63.25 241.45L63.36 239.52L63.47 237.62L63.58 235.99L63.69 234.74L63.80 233.96L63.91 233.65L64.03 233.83L64.14 234.45L64.25 235.46L64.36 236.78L64.47 238.28L64.58 239.78L64.69 241.07L64.80 241.91L64.91 242.13L65.02 241.68L65.13 240.65L65.24 239.23L65.35 237.63L65.46 236.04L65.57 234.59L65.68 233.39L65.79 232.47L65.90 231.86L66.01 231.59L66.13 231.63L66.24 231.98L66.35 232.61L66.46 233.49L66.57 234.57L66.68 235.77L66.79 237.00L66.90 238.16L67.01 239.12L67.12 239.75L67.23 239.97L67.34 239.75L67.45 239.11L67.56 238.15L67.67 236.96L67.78 235.67L67.89 234.37L68.00 233.15L68.11 232.05L68.22 231.12L68.34 230.39L68.45 229.85L68.56 229.53L68.67 229.41L68.78 229.50L68.89 229.79L69.00 230.26L69.11 230.89L69.22 231.67L69.33 232.56L69.44 233.53L69.55 234.53L69.66 235.50L69.77 236.39L69.88 237.13L69.99 237.67L70.10 237.95L70.21 237.96L70.32 237.69L70.44 237.17L70.55 236.44L70.66 235.56L70.77 234.59L70.88 233.57L70.99 232.55L71.10 231.58L71.21 230.68L71.32 229.87L71.43 229.17L71.43 229.17L71.52 228.68L71.61 228.28L71.70 227.95L71.79 227.72L71.89 227.57L71.98 227.51L72.07 227.54L72.17 227.66L72.26 227.87L72.36 228.16L72.46 228.54L72.55 228.99L72.65 229.51L72.75 230.10L72.85 230.74L72.95 231.42L73.05 232.13L73.15 232.85L73.25 233.56L73.36 234.24L73.46 234.86L73.56 235.40L73.67 235.82L73.77 236.12L73.88 236.26L73.99 236.25L74.09 236.08L74.20 235.75L74.31 235.28L74.42 234.70L74.53 234.01L74.65 233.26L74.76 232.46L74.87 231.63L74.99 230.81L75.10 230.00L75.22 229.23L75.33 228.50L75.45 227.83L75.57 227.24L75.69 226.72L75.81 226.28L75.93 225.94L76.05 225.68L76.18 225.53L76.30 225.47L76.43 225.51L76.55 225.65L76.68 225.88L76.81 226.22L76.93 226.65L77.06 227.18L77.20 227.80L77.33 228.51L77.46 229.29L77.59 230.14L77.73 231.05L77.87 231.99L78.00 232.94L78.14 233.87L78.28 234.76L78.42 235.56L78.56 236.24L78.71 236.77L78.85 237.10L79.00 237.22L79.14 237.12L79.29 236.81L79.44 236.30L79.59 235.62L79.74 234.80L79.90 233.88L80.05 232.90L80.21 231.90L80.36 230.89L80.52 229.91L80.68 228.97L80.84 228.10L81.00 227.30L81.17 226.59L81.33 225.98L81.50 225.47L81.67 225.06L81.84 224.76L82.01 224.57L82.18 224.49L82.36 224.53L82.53 224.68L82.71 224.94L82.89 225.32L83.07 225.82L83.25 226.42L83.44 227.13L83.62 227.95L83.81 228.86L84.00 229.86L84.19 230.93L84.39 232.05L84.58 233.21L84.78 234.35L84.98 235.46L85.18 236.48L85.38 237.36L85.59 238.06L85.79 238.52L86.00 238.72L86.21 238.63L86.43 238.25L86.64 237.63L86.86 236.78L87.08 235.77L87.30 234.63L87.53 233.43L87.75 232.21L87.98 230.99L88.21 229.82L88.45 228.71L88.68 227.69L88.92 226.76L89.16 225.94L89.41 225.23L89.65 224.63L89.90 224.16L90.15 223.82L90.41 223.60L90.67 223.52L90.93 223.56L91.19 223.73L91.46 224.03L91.73 224.47L92.00 225.03L92.27 225.72L92.55 226.53L92.83 227.47L93.12 228.53L93.41 229.70L93.70 230.96L93.99 232.31L94.29 233.72L94.60 235.15L94.90 236.55L95.21 237.89L95.52 239.08L95.84 240.05L96.16 240.75L96.49 241.11L96.82 241.10L97.15 240.72L97.49 240.01L97.83 239.01L98.18 237.80L98.53 236.45L98.88 235.02L99.24 233.58L99.61 232.16L99.98 230.79L100.35 229.51L100.73 228.33L101.12 227.27L101.51 226.33L101.90 225.52L102.30 224.84L102.71 224.30L103.12 223.90L103.54 223.64L103.96 223.52L104.39 223.55L104.83 223.71L105.27 224.03L105.72 224.49L106.18 225.10L106.64 225.87L107.11 226.79L107.58 227.86L108.07 229.09L108.56 230.46L109.06 231.98L109.56 233.63L110.07 235.39L110.60 237.23L111.13 239.10L111.67 240.93L112.21 242.62L112.77 244.07L113.33 245.15L113.91 245.75L114.49 245.80L115.09 245.30L115.69 244.31L116.31 242.93L116.93 241.29L117.57 239.49L118.22 237.63L118.87 235.79L119.54 234.03L120.23 232.37L120.92 230.83L121.63 229.45L122.35 228.21L123.08 227.13L123.83 226.21L124.59 225.45L125.37 224.85L126.16 224.41L126.97 224.13L127.80 224.01L127.80 223.99L128.57 224.46L129.34 225.03L130.11 225.70L130.88 226.45L131.66 227.28L132.43 228.18L133.20 229.13L133.97 230.13L134.75 231.17L135.52 232.28L136.29 233.55L137.06 234.96L137.84 236.48L138.61 238.10L139.38 239.78L140.15 241.50L140.92 243.24L141.70 245.06L142.47 247.07L143.24 249.20L144.01 251.37L144.79 253.52L145.56 255.56L146.33 257.42L147.10 259.05L147.88 260.73L148.65 262.45L149.42 264.09L150.19 265.50L150.96 266.57L151.74 267.16L152.51 267.19L153.28 266.83L154.05 266.21L154.83 265.42L155.60 264.57L156.37 263.75L157.14 263.05L157.92 262.50L158.69 261.92L159.46 261.34L160.23 260.78L161.00 260.28L161.78 259.85L162.55 259.53L163.32 259.35L164.09 259.28L164.87 259.21L165.64 259.15L166.41 259.09L167.18 259.05L167.96 259.01L168.73 258.98L169.50 258.96L170.27 258.95L171.04 258.95L171.82 259.05L172.59 259.27L173.36 259.61L174.13 260.03L174.91 260.53L175.68 261.07L176.45 261.65L177.22 262.24L178.00 262.83L178.77 263.39L179.54 264.00L180.31 264.69L181.08 265.45L181.86 266.23L182.63 267.02L183.40 267.79L184.17 268.52L184.95 269.18L185.72 269.78L186.49 270.36L187.26 270.91L188.04 271.45L188.81 271.97L189.58 272.48L190.35 272.98L191.12 273.48L191.90 273.99L192.67 274.49L193.44 274.98L194.21 275.44L194.99 275.89L195.76 276.34L196.53 276.79L197.30 277.26L198.08 277.76L198.85 278.29L199.62 278.86L200.39 279.50L201.16 280.22L201.94 281.00L202.71 281.84L203.48 282.71L204.25 283.59L205.03 284.47L205.80 285.35L206.57 286.25L207.34 287.18L208.12 288.13L208.89 289.08L209.66 290.03L210.43 290.98L211.20 291.90L211.98 292.81L212.75 293.69L213.52 294.56L214.29 295.42L215.07 296.27L215.84 297.11L216.61 297.94L217.38 298.77L218.16 299.60L218.93 300.42L219.70 301.25L220.47 302.09L221.24 302.93L222.02 303.78L222.79 304.64L223.56 305.51L224.33 306.39L225.11 307.27L225.88 308.15L226.65 309.03L227.42 309.91L228.20 310.79L228.97 311.68L229.74 312.58L230.51 313.50L231.28 314.43L232.06 315.38L232.83 316.34L233.60 317.33L234.37 318.35L235.15 319.40L235.92 320.51L236.69 321.73L237.46 323.01L238.24 324.29L239.01 325.51L239.78 326.63L240.55 327.62L241.32 328.56L242.10 329.45L242.87 330.29L243.64 331.11L244.41 331.89L245.19 332.65L245.96 333.39L246.73 334.11L247.50 334.80L248.28 335.46L249.05 336.09L249.82 336.69L250.59 337.27L251.36 337.86L252.14 338.43L252.91 338.96L253.68 339.42L254.45 339.78L255.23 340.01L256.00 340.21L256.77 340.40L257.54 340.55L258.32 340.66L259.09 340.71L259.86 340.67L260.63 340.48L261.40 340.17L262.18 339.78L262.95 339.35L263.72 338.91L264.49 338.50L265.27 338.14L266.04 337.78L266.81 337.40L267.58 337.02L268.36 336.64L269.13 336.28L269.90 335.93L270.67 335.63L271.44 335.35L272.22 335.08L272.99 334.81L273.76 334.49L274.53 334.13L275.31 333.68L276.08 333.09L276.85 332.41L277.62 331.66L278.40 330.88L279.17 330.10L279.94 329.35L280.71 328.59L281.48 327.78L282.26 326.95L283.03 326.15L283.80 325.41L284.57 324.80L285.35 324.33L286.12 323.93L286.89 323.59L287.66 323.28L288.44 323.00L289.21 322.72L289.98 322.44L290.75 322.19L291.52 321.95L292.30 321.73L293.07 321.50L293.84 321.25L294.61 320.98L295.39 320.68L296.16 320.34L296.93 319.97L297.70 319.58L298.48 319.17L299.25 318.75L300.02 318.33L300.79 317.91L301.56 317.50L302.34 317.10L303.11 316.74L303.88 316.40L304.65 316.09L305.43 315.83L306.20 315.60L306.97 315.37L307.74 315.14L308.52 314.92L309.29 314.71L310.06 314.49L310.83 314.29L311.60 314.09L312.38 313.90L313.15 313.73L313.92 313.56L314.69 313.40L315.47 313.25L316.24 313.12L317.01 313.00L317.78 312.89L318.56 312.80L319.33 312.72L320.10 312.67" stroke="#000" stroke-width="1.15" fill="none" stroke-linecap="round" stroke-dasharray="0.15 2.05"/>
<path d="M48.22 315.77L48.33 306.82L48.44 305.71L48.55 306.49L48.66 306.55L48.77 305.52L48.88 304.85L48.99 307.40L49.10 318.14L49.22 341.15L49.33 319.24L49.44 304.17L49.55 311.85L49.66 339.50L49.77 305.81L49.88 310.96L49.99 330.04L50.10 302.48L50.21 334.34L50.32 304.61L50.43 320.42L50.54 307.31L50.65 316.83L50.76 306.50L50.87 320.89L50.98 302.82L51.09 333.85L51.20 300.27L51.32 330.23L51.43 304.86L51.54 307.08L51.65 327.55L51.76 299.31L51.87 318.52L51.98 314.85L52.09 298.78L52.20 322.36L52.31 313.63L52.42 298.01L52.53 315.73L52.64 322.06L52.75 298.31L52.86 304.13L52.97 335.71L53.08 305.82L53.19 296.71L53.30 310.74L53.42 332.47L53.53 302.55L53.64 296.01L53.75 308.65L53.86 335.17L53.97 306.33L54.08 295.16L54.19 300.07L54.30 323.43L54.41 323.02L54.52 299.93L54.63 293.98L54.74 300.84L54.85 323.75L54.96 325.00L55.07 301.45L55.18 293.24L55.29 295.70L55.40 309.64L55.52 334.95L55.63 314.54L55.74 297.48L55.85 291.85L55.96 294.61L56.07 306.62L56.18 330.81L56.29 322.47L56.40 301.78L56.51 292.44L56.62 290.60L56.73 295.31L56.84 308.00L56.95 331.11L57.06 324.44L57.17 303.71L57.28 293.10L57.39 289.11L57.50 290.33L57.61 296.89L57.73 310.58L57.84 332.57L57.95 324.63L58.06 304.76L58.17 293.65L58.28 288.30L58.39 287.23L58.50 290.08L58.61 297.32L58.72 310.64L58.83 331.27L58.94 327.88L59.05 307.92L59.16 295.57L59.27 288.61L59.38 285.39L59.49 285.25L59.60 288.07L59.71 294.25L59.83 304.90L59.94 322.05L60.05 335.90L60.16 318.55L60.27 302.58L60.38 292.61L60.49 286.58L60.60 283.39L60.71 282.54L60.82 283.87L60.93 287.46L61.04 293.76L61.15 303.70L61.26 318.97L61.37 335.74L61.48 324.82L61.59 307.59L61.70 295.98L61.81 288.31L61.93 283.33L62.04 280.40L62.15 279.18L62.26 279.54L62.37 281.48L62.48 285.14L62.59 290.89L62.70 299.40L62.81 311.91L62.92 328.88L63.03 332.48L63.14 315.52L63.25 301.56L63.36 291.90L63.47 285.15L63.58 280.46L63.69 277.34L63.80 275.54L63.91 274.90L64.03 275.36L64.14 276.93L64.25 279.67L64.36 283.77L64.47 289.50L64.58 297.42L64.69 308.40L64.80 323.24L64.91 334.00L65.02 322.74L65.13 307.97L65.24 297.03L65.35 289.07L65.46 283.16L65.57 278.77L65.68 275.57L65.79 273.34L65.90 271.96L66.01 271.36L66.13 271.50L66.24 272.37L66.35 274.00L66.46 276.43L66.57 279.78L66.68 284.21L66.79 290.00L66.90 297.57L67.01 307.59L67.12 320.56L67.23 331.84L67.34 326.09L67.45 312.39L67.56 301.04L67.67 292.42L67.78 285.78L67.89 280.59L68.00 276.50L68.11 273.29L68.22 270.81L68.34 268.96L68.45 267.68L68.56 266.91L68.67 266.62L68.78 266.81L68.89 267.46L69.00 268.60L69.11 270.23L69.22 272.41L69.33 275.20L69.44 278.69L69.55 283.01L69.66 288.38L69.77 295.08L69.88 303.56L69.99 314.23L70.10 325.79L70.21 329.21L70.32 319.60L70.44 307.98L70.55 298.39L70.66 290.79L70.77 284.69L70.88 279.72L70.99 275.62L71.10 272.23L71.21 269.43L71.32 267.12L71.43 265.25L71.43 265.25L71.52 264.00L71.61 263.00L71.70 262.21L71.80 261.64L71.89 261.29L71.98 261.14L72.08 261.19L72.17 261.46L72.27 261.94L72.36 262.65L72.46 263.58L72.56 264.77L72.66 266.22L72.75 267.96L72.85 270.03L72.95 272.45L73.06 275.30L73.16 278.64L73.26 282.57L73.36 287.23L73.47 292.81L73.57 299.55L73.68 307.75L73.78 317.40L73.89 326.35L74.00 327.53L74.10 319.38L74.21 309.29L74.32 300.44L74.43 293.11L74.55 287.02L74.66 281.90L74.77 277.54L74.88 273.80L75.00 270.58L75.11 267.79L75.23 265.38L75.35 263.29L75.47 261.51L75.59 260.00L75.71 258.74L75.83 257.71L75.95 256.92L76.07 256.33L76.19 255.96L76.32 255.80L76.44 255.84L76.57 256.10L76.70 256.57L76.83 257.26L76.96 258.19L77.09 259.36L77.22 260.81L77.35 262.54L77.49 264.60L77.62 267.03L77.76 269.88L77.89 273.23L78.03 277.19L78.17 281.90L78.31 287.58L78.45 294.54L78.59 303.22L78.74 313.97L78.88 325.17L79.03 327.49L79.18 317.48L79.33 305.87L79.48 296.24L79.63 288.48L79.78 282.14L79.93 276.85L80.09 272.37L80.25 268.55L80.40 265.26L80.56 262.42L80.72 259.96L80.88 257.84L81.05 256.03L81.21 254.49L81.38 253.20L81.55 252.16L81.72 251.34L81.89 250.74L82.06 250.35L82.23 250.18L82.41 250.21L82.59 250.46L82.76 250.92L82.95 251.61L83.13 252.53L83.31 253.70L83.50 255.14L83.68 256.87L83.87 258.93L84.06 261.36L84.26 264.22L84.45 267.59L84.65 271.58L84.85 276.34L85.05 282.11L85.25 289.25L85.45 298.33L85.66 310.12L85.87 323.97L86.08 328.10L86.29 315.57L86.50 302.28L86.72 291.87L86.94 283.72L87.16 277.15L87.39 271.73L87.61 267.16L87.84 263.27L88.07 259.92L88.30 257.04L88.54 254.55L88.78 252.40L89.02 250.55L89.26 248.99L89.51 247.68L89.76 246.60L90.01 245.76L90.26 245.13L90.52 244.71L90.78 244.51L91.04 244.50L91.30 244.71L91.57 245.14L91.84 245.78L92.12 246.67L92.40 247.79L92.68 249.19L92.96 250.88L93.25 252.89L93.54 255.28L93.84 258.09L94.13 261.41L94.43 265.34L94.74 270.06L95.05 275.80L95.36 282.95L95.68 292.15L96.00 304.43L96.32 320.14L96.65 326.47L96.98 311.85L97.32 297.19L97.66 286.16L98.01 277.67L98.36 270.87L98.71 265.28L99.07 260.57L99.43 256.56L99.80 253.12L100.18 250.13L100.55 247.54L100.94 245.30L101.33 243.37L101.72 241.72L102.12 240.32L102.53 239.17L102.94 238.24L103.35 237.53L103.78 237.03L104.20 236.74L104.64 236.66L105.08 236.79L105.53 237.13L105.98 237.70L106.44 238.50L106.91 239.55L107.38 240.86L107.87 242.47L108.36 244.40L108.85 246.71L109.36 249.44L109.87 252.69L110.39 256.56L110.92 261.22L111.46 266.95L112.00 274.15L112.56 283.62L113.12 296.90L113.69 316.84L114.28 329.64L114.87 307.51L115.47 289.89L116.08 277.75L116.71 268.64L117.34 261.42L117.99 255.47L118.64 250.43L119.31 246.11L119.99 242.36L120.69 239.07L121.39 236.20L122.11 233.69L122.84 231.51L123.59 229.63L124.35 228.06L125.12 226.77L125.91 225.78L126.72 225.07L127.54 224.67L128.38 224.58L129.23 224.75L130.11 225.15L131.00 225.79L131.90 226.67L132.83 227.80L133.78 229.18L134.75 230.84L135.74 232.79L136.75 235.06L137.78 237.69L138.84 240.73L139.92 244.27L141.02 248.44L142.16 253.42L143.31 259.49L144.50 267.13L145.71 277.22L146.96 292.27L148.23 317.94L149.54 348.79L150.88 311.37L152.25 292.52L153.66 281.00L155.11 272.57L156.59 265.96L158.12 260.73L159.68 256.59L161.29 253.24L162.95 250.57L164.65 248.58L166.41 247.25L168.21 246.36L170.07 245.63L170.07 245.71L170.82 245.63L171.58 245.57L172.33 245.54L173.08 245.52L173.84 245.52L174.59 245.52L175.35 245.57L176.10 245.69L176.85 245.87L177.61 246.11L178.36 246.39L179.12 246.70L179.87 247.03L180.62 247.37L181.38 247.72L182.13 248.05L182.89 248.37L183.64 248.66L184.39 248.91L185.15 249.11L185.90 249.28L186.66 249.44L187.41 249.59L188.16 249.73L188.92 249.86L189.67 249.99L190.43 250.11L191.18 250.23L191.93 250.34L192.69 250.46L193.44 250.57L194.19 250.69L194.95 250.81L195.70 250.94L196.46 251.08L197.21 251.22L197.96 251.38L198.72 251.54L199.47 251.72L200.23 251.92L200.98 252.14L201.73 252.38L202.49 252.64L203.24 252.92L204.00 253.21L204.75 253.53L205.50 253.85L206.26 254.20L207.01 254.55L207.77 254.92L208.52 255.32L209.27 255.78L210.03 256.30L210.78 256.83L211.53 257.36L212.29 257.87L213.04 258.33L213.80 258.73L214.55 259.10L215.30 259.45L216.06 259.80L216.81 260.13L217.57 260.45L218.32 260.76L219.07 261.06L219.83 261.36L220.58 261.64L221.34 261.93L222.09 262.21L222.84 262.48L223.60 262.75L224.35 263.02L225.11 263.29L225.86 263.57L226.61 263.84L227.37 264.12L228.12 264.40L228.88 264.67L229.63 264.95L230.38 265.22L231.14 265.50L231.89 265.77L232.64 266.04L233.40 266.30L234.15 266.57L234.91 266.83L235.66 267.08L236.41 267.34L237.17 267.59L237.92 267.84L238.68 268.08L239.43 268.32L240.18 268.55L240.94 268.78L241.69 269.00L242.45 269.21L243.20 269.41L243.95 269.61L244.71 269.80L245.46 269.99L246.22 270.18L246.97 270.37L247.72 270.57L248.48 270.77L249.23 270.98L249.99 271.21L250.74 271.45L251.49 271.72L252.25 272.00L253.00 272.29L253.75 272.60L254.51 272.90L255.26 273.20L256.02 273.50L256.77 273.78L257.52 274.05L258.28 274.30L259.03 274.53L259.79 274.73L260.54 274.89L261.29 275.04L262.05 275.17L262.80 275.28L263.56 275.39L264.31 275.50L265.06 275.60L265.82 275.72L266.57 275.85L267.33 275.99L268.08 276.16L268.83 276.36L269.59 276.66L270.34 277.07L271.09 277.55L271.85 278.05L272.60 278.54L273.36 278.97L274.11 279.30L274.86 279.50L275.62 279.62L276.37 279.72L277.13 279.81L277.88 279.88L278.63 279.94L279.39 280.00L280.14 280.05L280.90 280.10L281.65 280.14L282.40 280.18L283.16 280.23L283.91 280.28L284.67 280.34L285.42 280.41L286.17 280.49L286.93 280.59L287.68 280.70L288.44 280.85L289.19 281.05L289.94 281.29L290.70 281.56L291.45 281.85L292.20 282.15L292.96 282.46L293.71 282.78L294.47 283.08L295.22 283.37L295.97 283.63L296.73 283.86L297.48 284.08L298.24 284.28L298.99 284.48L299.74 284.68L300.50 284.87L301.25 285.05L302.01 285.24L302.76 285.42L303.51 285.59L304.27 285.77L305.02 285.95L305.78 286.13L306.53 286.31L307.28 286.50L308.04 286.69L308.79 286.88L309.55 287.07L310.30 287.26L311.05 287.45L311.81 287.64L312.56 287.83L313.31 288.02L314.07 288.22L314.82 288.41L315.58 288.60L316.33 288.79L317.08 288.98L317.84 289.18L318.59 289.37L319.35 289.56L320.10 289.75" stroke="#000" stroke-width="1.25" fill="none" stroke-linejoin="round"/>
<path d="M48.22 292.94L48.90 290.24L49.58 287.88L50.27 285.94L50.95 284.22L51.63 282.53L52.31 280.65L52.99 278.36L53.67 276.00L54.35 273.79L55.03 272.11L55.72 270.87L56.40 269.86L57.08 269.03L57.76 268.33L58.44 267.70L59.12 267.08L59.80 266.40L60.49 265.60L61.17 264.82L61.85 264.22L62.53 263.85L63.21 263.56L63.89 263.30L64.57 263.09L65.26 262.89L65.94 262.71L66.62 262.52L67.30 262.32L67.98 262.11L68.66 261.89L69.34 261.69L70.03 261.52L70.71 261.39L71.39 261.32L72.07 261.34L72.75 261.36L73.43 261.36L74.11 261.37L74.80 261.37L75.48 261.37L76.16 261.37L76.84 261.38L77.52 261.39L78.20 261.41L78.88 261.44L79.57 261.47L80.25 261.50L80.93 261.54L81.61 261.59L82.29 261.63L82.97 261.69L83.65 261.75L84.34 261.82L85.02 261.89L85.70 261.97L86.38 262.06L87.06 262.16L87.74 262.26L88.42 262.37L89.10 262.49L89.79 262.61L90.47 262.75L91.15 262.89L91.83 263.05L92.51 263.21L93.19 263.38L93.87 263.56L94.56 263.75L95.24 263.95L95.92 264.15L96.60 264.36L97.28 264.58L97.96 264.80L98.64 265.03L99.33 265.25L100.01 265.49L100.69 265.72L101.37 265.95L102.05 266.19L102.73 266.43L103.41 266.66L104.10 266.91L104.78 267.15L105.46 267.40L106.14 267.65L106.82 267.90L107.50 268.16L108.18 268.43L108.87 268.70L109.55 268.98L110.23 269.27L110.91 269.56L111.59 269.86L112.27 270.17L112.95 270.49L113.64 270.82L114.32 271.15L115.00 271.49L115.68 271.85L116.36 272.21L117.04 272.58L117.72 272.95L118.41 273.34L119.09 273.73L119.77 274.14L120.45 274.55L121.13 274.97L121.81 275.40L122.49 275.84L123.17 276.28L123.86 276.73L124.54 277.19L125.22 277.65L125.90 278.11L126.58 278.58L127.26 279.05L127.94 279.52L128.63 280.00L129.31 280.47L129.99 280.95L130.67 281.43L131.35 281.92L132.03 282.41L132.71 282.90L133.40 283.40L134.08 283.91L134.76 284.43L135.44 284.95L136.12 285.48L136.80 286.02L137.48 286.57L138.17 287.13L138.85 287.70L139.53 288.29L140.21 288.88L140.89 289.48L141.57 290.08L142.25 290.70L142.94 291.32L143.62 291.95L144.30 292.58L144.98 293.22L145.66 293.86L146.34 294.51L147.02 295.15L147.71 295.80L148.39 296.45L149.07 297.10L149.75 297.76L150.43 298.41L151.11 299.06L151.79 299.71L152.48 300.36L153.16 301.01L153.84 301.66L154.52 302.31L155.20 302.95L155.88 303.60L156.56 304.24L157.25 304.89L157.93 305.53L158.61 306.17L159.29 306.80L159.97 307.44L160.65 308.07L161.33 308.70L162.01 309.32L162.70 309.95L163.38 310.57L164.06 311.19L164.74 311.80L165.42 312.41L166.10 313.02L166.78 313.62L167.47 314.22L168.15 314.81L168.83 315.39L169.51 315.97L170.19 316.55L170.87 317.11L171.55 317.67L172.24 318.22L172.92 318.76L173.60 319.30L174.28 319.82L174.96 320.34L175.64 320.84L176.32 321.34L177.01 321.82L177.69 322.30L178.37 322.76L179.05 323.22L179.73 323.66L180.41 324.10L181.09 324.53L181.78 324.94L182.46 325.35L183.14 325.76L183.82 326.15L184.50 326.53L185.18 326.91L185.86 327.28L186.55 327.64L187.23 328.00L187.91 328.35L188.59 328.69L189.27 329.02L189.95 329.35L190.63 329.66L191.32 329.98L192.00 330.28L192.68 330.58L193.36 330.87L194.04 331.16L194.72 331.44L195.40 331.72L196.08 331.99L196.77 332.25L197.45 332.51L198.13 332.76L198.81 333.00L199.49 333.25L200.17 333.48L200.85 333.71L201.54 333.94L202.22 334.16L202.90 334.38L203.58 334.59L204.26 334.79L204.94 334.99L205.62 335.19L206.31 335.38L206.99 335.57L207.67 335.75L208.35 335.93L209.03 336.10L209.71 336.27L210.39 336.44L211.08 336.59L211.76 336.75L212.44 336.90L213.12 337.05L213.80 337.20L214.48 337.34L215.16 337.48L215.85 337.62L216.53 337.76L217.21 337.90L217.89 338.03L218.57 338.17L219.25 338.31L219.93 338.44L220.62 338.58L221.30 338.72L221.98 338.85L222.66 338.99L223.34 339.13L224.02 339.27L224.70 339.40L225.39 339.54L226.07 339.68L226.75 339.82L227.43 339.96L228.11 340.10L228.79 340.24L229.47 340.38L230.16 340.52L230.84 340.65L231.52 340.79L232.20 340.93L232.88 341.07L233.56 341.21L234.24 341.35L234.92 341.49L235.61 341.62L236.29 341.76L236.97 341.90L237.65 342.04L238.33 342.17L239.01 342.31L239.69 342.44L240.38 342.58L241.06 342.71L241.74 342.84L242.42 342.97L243.10 343.09L243.78 343.22L244.46 343.34L245.15 343.46L245.83 343.58L246.51 343.69L247.19 343.80L247.87 343.91L248.55 344.02L249.23 344.13L249.92 344.24L250.60 344.34L251.28 344.44L251.96 344.54L252.64 344.64L253.32 344.74L254.00 344.84L254.69 344.94L255.37 345.04L256.05 345.14L256.73 345.24L257.41 345.34L258.09 345.44L258.77 345.54L259.46 345.64L260.14 345.75L260.82 345.85L261.50 345.96L262.18 346.07L262.86 346.18L263.54 346.29L264.23 346.41L264.91 346.52L265.59 346.64L266.27 346.76L266.95 346.88L267.63 347.00L268.31 347.13L268.99 347.25L269.68 347.38L270.36 347.51L271.04 347.63L271.72 347.76L272.40 347.89L273.08 348.02L273.76 348.16L274.45 348.29L275.13 348.42L275.81 348.55L276.49 348.68L277.17 348.82L277.85 348.95L278.53 349.08L279.22 349.21L279.90 349.34L280.58 349.47L281.26 349.59L281.94 349.72L282.62 349.85L283.30 349.97L283.99 350.09L284.67 350.22L285.35 350.34L286.03 350.46L286.71 350.58L287.39 350.70L288.07 350.82L288.76 350.93L289.44 351.05L290.12 351.17L290.80 351.28L291.48 351.40L292.16 351.51L292.84 351.63L293.53 351.74L294.21 351.86L294.89 351.97L295.57 352.08L296.25 352.19L296.93 352.30L297.61 352.41L298.30 352.52L298.98 352.62L299.66 352.73L300.34 352.83L301.02 352.94L301.70 353.04L302.38 353.13L303.06 353.23L303.75 353.32L304.43 353.42L305.11 353.51L305.79 353.59L306.47 353.68L307.15 353.76L307.83 353.84L308.52 353.92L309.20 353.99L309.88 354.07L310.56 354.14L311.24 354.21L311.92 354.27L312.60 354.33L313.29 354.40L313.97 354.46L314.65 354.51L315.33 354.57L316.01 354.62L316.69 354.68L317.37 354.73L318.06 354.78L318.74 354.83L319.42 354.88L320.10 354.93" stroke="#f00" stroke-width="1.15" fill="none" stroke-linecap="round" stroke-dasharray="0.15 2.05"/>
<path d="M48.22 298.32L48.90 294.92L49.58 293.13L50.27 291.88L50.95 290.69L51.63 289.06L52.31 286.69L52.99 284.31L53.67 282.01L54.35 279.84L55.03 278.05L55.72 276.60L56.40 275.35L57.08 274.25L57.76 273.28L58.44 272.39L59.12 271.55L59.80 270.72L60.49 269.92L61.17 269.18L61.85 268.55L62.53 268.04L63.21 267.59L63.89 267.19L64.57 266.83L65.26 266.47L65.94 266.10L66.62 265.71L67.30 265.32L67.98 264.95L68.66 264.60L69.34 264.29L70.03 264.03L70.71 263.84L71.39 263.71L72.07 263.70L72.75 263.69L73.43 263.68L74.11 263.66L74.80 263.64L75.48 263.61L76.16 263.59L76.84 263.57L77.52 263.55L78.20 263.53L78.88 263.53L79.57 263.53L80.25 263.54L80.93 263.56L81.61 263.58L82.29 263.62L82.97 263.66L83.65 263.71L84.34 263.78L85.02 263.86L85.70 263.94L86.38 264.04L87.06 264.15L87.74 264.26L88.42 264.39L89.10 264.53L89.79 264.68L90.47 264.84L91.15 265.01L91.83 265.19L92.51 265.38L93.19 265.58L93.87 265.79L94.56 266.00L95.24 266.23L95.92 266.45L96.60 266.68L97.28 266.92L97.96 267.15L98.64 267.39L99.33 267.62L100.01 267.85L100.69 268.08L101.37 268.30L102.05 268.53L102.73 268.75L103.41 268.97L104.10 269.18L104.78 269.40L105.46 269.62L106.14 269.84L106.82 270.07L107.50 270.30L108.18 270.54L108.87 270.79L109.55 271.04L110.23 271.30L110.91 271.58L111.59 271.86L112.27 272.16L112.95 272.46L113.64 272.78L114.32 273.11L115.00 273.45L115.68 273.80L116.36 274.16L117.04 274.53L117.72 274.92L118.41 275.31L119.09 275.72L119.77 276.13L120.45 276.56L121.13 277.00L121.81 277.45L122.49 277.91L123.17 278.38L123.86 278.86L124.54 279.35L125.22 279.86L125.90 280.37L126.58 280.90L127.26 281.43L127.94 281.98L128.63 282.53L129.31 283.10L129.99 283.67L130.67 284.25L131.35 284.84L132.03 285.43L132.71 286.03L133.40 286.63L134.08 287.24L134.76 287.85L135.44 288.46L136.12 289.08L136.80 289.70L137.48 290.32L138.17 290.95L138.85 291.58L139.53 292.21L140.21 292.85L140.89 293.50L141.57 294.15L142.25 294.80L142.94 295.46L143.62 296.13L144.30 296.80L144.98 297.48L145.66 298.16L146.34 298.85L147.02 299.54L147.71 300.23L148.39 300.92L149.07 301.62L149.75 302.32L150.43 303.02L151.11 303.73L151.79 304.43L152.48 305.14L153.16 305.85L153.84 306.57L154.52 307.29L155.20 308.01L155.88 308.74L156.56 309.47L157.25 310.21L157.93 310.95L158.61 311.70L159.29 312.45L159.97 313.21L160.65 313.98L161.33 314.74L162.01 315.51L162.70 316.28L163.38 317.05L164.06 317.82L164.74 318.58L165.42 319.34L166.10 320.09L166.78 320.82L167.47 321.55L168.15 322.26L168.83 322.96L169.51 323.64L170.19 324.31L170.87 324.97L171.55 325.61L172.24 326.24L172.92 326.85L173.60 327.46L174.28 328.05L174.96 328.64L175.64 329.21L176.32 329.77L177.01 330.33L177.69 330.87L178.37 331.40L179.05 331.91L179.73 332.41L180.41 332.90L181.09 333.37L181.78 333.82L182.46 334.26L183.14 334.68L183.82 335.09L184.50 335.48L185.18 335.86L185.86 336.22L186.55 336.58L187.23 336.92L187.91 337.25L188.59 337.57L189.27 337.88L189.95 338.18L190.63 338.47L191.32 338.76L192.00 339.03L192.68 339.30L193.36 339.57L194.04 339.83L194.72 340.08L195.40 340.32L196.08 340.57L196.77 340.80L197.45 341.03L198.13 341.26L198.81 341.48L199.49 341.70L200.17 341.92L200.85 342.13L201.54 342.34L202.22 342.55L202.90 342.75L203.58 342.95L204.26 343.14L204.94 343.34L205.62 343.53L206.31 343.71L206.99 343.90L207.67 344.08L208.35 344.26L209.03 344.43L209.71 344.60L210.39 344.77L211.08 344.94L211.76 345.10L212.44 345.26L213.12 345.42L213.80 345.58L214.48 345.73L215.16 345.89L215.85 346.04L216.53 346.19L217.21 346.33L217.89 346.48L218.57 346.62L219.25 346.77L219.93 346.91L220.62 347.05L221.30 347.19L221.98 347.33L222.66 347.47L223.34 347.61L224.02 347.74L224.70 347.88L225.39 348.02L226.07 348.15L226.75 348.29L227.43 348.42L228.11 348.55L228.79 348.68L229.47 348.81L230.16 348.94L230.84 349.07L231.52 349.19L232.20 349.31L232.88 349.43L233.56 349.55L234.24 349.66L234.92 349.78L235.61 349.89L236.29 350.00L236.97 350.10L237.65 350.20L238.33 350.30L239.01 350.40L239.69 350.50L240.38 350.59L241.06 350.68L241.74 350.76L242.42 350.85L243.10 350.93L243.78 351.01L244.46 351.09L245.15 351.16L245.83 351.24L246.51 351.31L247.19 351.38L247.87 351.45L248.55 351.52L249.23 351.59L249.92 351.65L250.60 351.72L251.28 351.78L251.96 351.85L252.64 351.91L253.32 351.98L254.00 352.04L254.69 352.11L255.37 352.17L256.05 352.23L256.73 352.30L257.41 352.36L258.09 352.43L258.77 352.50L259.46 352.56L260.14 352.63L260.82 352.70L261.50 352.77L262.18 352.84L262.86 352.91L263.54 352.98L264.23 353.06L264.91 353.13L265.59 353.21L266.27 353.28L266.95 353.36L267.63 353.44L268.31 353.51L268.99 353.59L269.68 353.67L270.36 353.75L271.04 353.83L271.72 353.91L272.40 353.99L273.08 354.08L273.76 354.16L274.45 354.24L275.13 354.32L275.81 354.40L276.49 354.49L277.17 354.57L277.85 354.65L278.53 354.74L279.22 354.82L279.90 354.90L280.58 354.98L281.26 355.07L281.94 355.15L282.62 355.23L283.30 355.31L283.99 355.40L284.67 355.48L285.35 355.56L286.03 355.65L286.71 355.73L287.39 355.81L288.07 355.89L288.76 355.98L289.44 356.06L290.12 356.15L290.80 356.23L291.48 356.31L292.16 356.40L292.84 356.48L293.53 356.57L294.21 356.65L294.89 356.74L295.57 356.82L296.25 356.90L296.93 356.99L297.61 357.07L298.30 357.16L298.98 357.24L299.66 357.32L300.34 357.40L301.02 357.48L301.70 357.56L302.38 357.64L303.06 357.72L303.75 357.80L304.43 357.87L305.11 357.95L305.79 358.02L306.47 358.09L307.15 358.16L307.83 358.23L308.52 358.30L309.20 358.37L309.88 358.43L310.56 358.50L311.24 358.56L311.92 358.62L312.60 358.68L313.29 358.74L313.97 358.80L314.65 358.85L315.33 358.91L316.01 358.96L316.69 359.02L317.37 359.07L318.06 359.12L318.74 359.17L319.42 359.22L320.10 359.27" stroke="#f00" stroke-width="1.25" fill="none"/>
</g>
<path d="M49.33 368.9v-2.9M49.33 203.5v2.9M54.85 368.9v-2.9M54.85 203.5v2.9M60.38 368.9v-2.9M60.38 203.5v2.9M65.9 368.9v-2.9M65.9 203.5v2.9M71.43 368.9v-4.1M71.43 203.5v4.1M76.96 368.9v-2.9M76.96 203.5v2.9M82.48 368.9v-2.9M82.48 203.5v2.9M88.01 368.9v-2.9M88.01 203.5v2.9M93.53 368.9v-2.9M93.53 203.5v2.9M99.06 368.9v-4.1M99.06 203.5v4.1M104.59 368.9v-2.9M104.59 203.5v2.9M110.11 368.9v-2.9M110.11 203.5v2.9M115.64 368.9v-2.9M115.64 203.5v2.9M121.16 368.9v-2.9M121.16 203.5v2.9M126.69 368.9v-4.1M126.69 203.5v4.1M132.22 368.9v-2.9M132.22 203.5v2.9M137.74 368.9v-2.9M137.74 203.5v2.9M143.27 368.9v-2.9M143.27 203.5v2.9M148.79 368.9v-2.9M148.79 203.5v2.9M154.32 368.9v-4.1M154.32 203.5v4.1M159.85 368.9v-2.9M159.85 203.5v2.9M165.37 368.9v-2.9M165.37 203.5v2.9M170.9 368.9v-2.9M170.9 203.5v2.9M176.42 368.9v-2.9M176.42 203.5v2.9M181.95 368.9v-4.1M181.95 203.5v4.1M187.48 368.9v-2.9M187.48 203.5v2.9M193 368.9v-2.9M193 203.5v2.9M198.53 368.9v-2.9M198.53 203.5v2.9M204.05 368.9v-2.9M204.05 203.5v2.9M209.58 368.9v-4.1M209.58 203.5v4.1M215.11 368.9v-2.9M215.11 203.5v2.9M220.63 368.9v-2.9M220.63 203.5v2.9M226.16 368.9v-2.9M226.16 203.5v2.9M231.68 368.9v-2.9M231.68 203.5v2.9M237.21 368.9v-4.1M237.21 203.5v4.1M242.74 368.9v-2.9M242.74 203.5v2.9M248.26 368.9v-2.9M248.26 203.5v2.9M253.79 368.9v-2.9M253.79 203.5v2.9M259.31 368.9v-2.9M259.31 203.5v2.9M264.84 368.9v-4.1M264.84 203.5v4.1M270.37 368.9v-2.9M270.37 203.5v2.9M275.89 368.9v-2.9M275.89 203.5v2.9M281.42 368.9v-2.9M281.42 203.5v2.9M286.94 368.9v-2.9M286.94 203.5v2.9M292.47 368.9v-4.1M292.47 203.5v4.1M298 368.9v-2.9M298 203.5v2.9M303.52 368.9v-2.9M303.52 203.5v2.9M309.05 368.9v-2.9M309.05 203.5v2.9M314.57 368.9v-2.9M314.57 203.5v2.9M48.6 365.12h3M320.4 365.12h-3M48.6 361.29h3M320.4 361.29h-3M48.6 358.16h3M320.4 358.16h-3M48.6 355.52h3M320.4 355.52h-3M48.6 353.23h3M320.4 353.23h-3M48.6 351.21h3M320.4 351.21h-3M48.6 349.4h4.3M320.4 349.4h-4.3M48.6 337.51h3M320.4 337.51h-3M48.6 330.55h3M320.4 330.55h-3M48.6 325.62h3M320.4 325.62h-3M48.6 321.79h3M320.4 321.79h-3M48.6 318.66h3M320.4 318.66h-3M48.6 316.02h3M320.4 316.02h-3M48.6 313.73h3M320.4 313.73h-3M48.6 311.71h3M320.4 311.71h-3M48.6 309.9h4.3M320.4 309.9h-4.3M48.6 298.01h3M320.4 298.01h-3M48.6 291.05h3M320.4 291.05h-3M48.6 286.12h3M320.4 286.12h-3M48.6 282.29h3M320.4 282.29h-3M48.6 279.16h3M320.4 279.16h-3M48.6 276.52h3M320.4 276.52h-3M48.6 274.23h3M320.4 274.23h-3M48.6 272.21h3M320.4 272.21h-3M48.6 270.4h4.3M320.4 270.4h-4.3M48.6 258.51h3M320.4 258.51h-3M48.6 251.55h3M320.4 251.55h-3M48.6 246.62h3M320.4 246.62h-3M48.6 242.79h3M320.4 242.79h-3M48.6 239.66h3M320.4 239.66h-3M48.6 237.02h3M320.4 237.02h-3M48.6 234.73h3M320.4 234.73h-3M48.6 232.71h3M320.4 232.71h-3M48.6 230.9h4.3M320.4 230.9h-4.3M48.6 219.01h3M320.4 219.01h-3M48.6 212.05h3M320.4 212.05h-3M48.6 207.12h3M320.4 207.12h-3" stroke="#3c3c3c" stroke-width="0.95" fill="none"/>
<rect x="48.6" y="203.5" width="271.8" height="165.4" fill="none" stroke="#3a3a3a" stroke-width="1.05"/>
<g class="t" opacity="0.999"><text transform="translate(71.43 380.8) scale(1 1.08)" text-anchor="middle">1</text><text transform="translate(99.06 380.8) scale(1 1.08)" text-anchor="middle">2</text><text transform="translate(126.69 380.8) scale(1 1.08)" text-anchor="middle">3</text><text transform="translate(154.32 380.8) scale(1 1.08)" text-anchor="middle">4</text><text transform="translate(181.95 380.8) scale(1 1.08)" text-anchor="middle">5</text><text transform="translate(209.58 380.8) scale(1 1.08)" text-anchor="middle">6</text><text transform="translate(237.21 380.8) scale(1 1.08)" text-anchor="middle">7</text><text transform="translate(264.84 380.8) scale(1 1.08)" text-anchor="middle">8</text><text transform="translate(292.47 380.8) scale(1 1.08)" text-anchor="middle">9</text><text transform="translate(320.1 380.8) scale(1 1.08)" text-anchor="middle">10</text><text transform="translate(159.6 397.3) scale(1 1.08)">E</text><text x="167.2" y="399.5" class="s" font-style="italic" transform="skewX(0)">&#957;</text><text transform="translate(177.4 397.3) scale(1 1.08)" textLength="31" lengthAdjust="spacingAndGlyphs">(GeV)</text><text transform="translate(45.1 350) scale(1 1.08)" text-anchor="end" class="s">4</text><rect x="34.5" y="347.85" width="5.0" height="0.75" fill="#111"/><text transform="translate(33.9 354.4) scale(1 1.08)" text-anchor="end" textLength="11.9" lengthAdjust="spacingAndGlyphs">10</text><text transform="translate(45.1 310.5) scale(1 1.08)" text-anchor="end" class="s">3</text><rect x="34.5" y="308.35" width="5.0" height="0.75" fill="#111"/><text transform="translate(33.9 314.9) scale(1 1.08)" text-anchor="end" textLength="11.9" lengthAdjust="spacingAndGlyphs">10</text><text transform="translate(45.1 271) scale(1 1.08)" text-anchor="end" class="s">2</text><rect x="34.5" y="268.85" width="5.0" height="0.75" fill="#111"/><text transform="translate(33.9 275.4) scale(1 1.08)" text-anchor="end" textLength="11.9" lengthAdjust="spacingAndGlyphs">10</text><text transform="translate(45.1 231.5) scale(1 1.08)" text-anchor="end" class="s">1</text><rect x="34.5" y="229.35" width="5.0" height="0.75" fill="#111"/><text transform="translate(33.9 235.9) scale(1 1.08)" text-anchor="end" textLength="11.9" lengthAdjust="spacingAndGlyphs">10</text><g transform="translate(12 203) rotate(-90)"><text x="-137.4" y="0">&#934;</text><text x="-125.4" y="0">&#215;</text><text x="-113.2" y="0" font-style="italic">&#963;</text><text x="-106.4" y="0" textLength="17.0" lengthAdjust="spacingAndGlyphs">(10</text><rect x="-86.6" y="-7.4" width="5.3" height="0.75" fill="#111"/><text x="-80.9" y="-5.3" class="s">24</text><text x="-69.3" y="0">GeV</text><rect x="-45.5" y="-7.4" width="5.3" height="0.75" fill="#111"/><text x="-39.2" y="-5.3" class="s">1</text><text x="-33.6" y="0">)</text></g></g>
<clipPath id="c4"><rect x="407.6" y="203.5" width="271.8" height="165.4"/></clipPath>
<g clip-path="url(#c4)">
<path d="M407.22 313.85L407.33 310.85L407.44 308.81L407.55 307.41L407.66 306.17L407.77 305.09L407.88 304.50L407.99 304.71L408.10 304.91L408.22 302.93L408.33 299.34L408.44 298.50L408.55 300.65L408.66 298.11L408.77 295.36L408.88 298.12L408.99 294.56L409.10 294.31L409.21 294.97L409.32 291.53L409.43 294.23L409.54 289.80L409.65 292.88L409.76 288.43L409.87 291.21L409.98 287.53L410.09 288.75L410.20 287.61L410.32 285.54L410.43 288.00L410.54 283.55L410.65 285.57L410.76 284.67L410.87 281.55L410.98 284.44L411.09 282.12L411.20 279.83L411.31 282.65L411.42 280.78L411.53 278.01L411.64 280.35L411.75 280.50L411.86 276.94L411.97 277.26L412.08 279.69L412.19 277.64L412.30 274.95L412.42 276.20L412.53 278.18L412.64 276.07L412.75 273.49L412.86 274.22L412.97 276.46L413.08 275.70L413.19 272.82L413.30 271.91L413.41 273.66L413.52 275.24L413.63 273.79L413.74 271.24L413.85 270.53L413.96 272.06L414.07 273.82L414.18 273.26L414.29 270.92L414.40 269.32L414.52 269.67L414.63 271.44L414.74 272.73L414.85 271.95L414.96 269.83L415.07 268.26L415.18 268.23L415.29 269.58L415.40 271.19L415.51 271.55L415.62 270.22L415.73 268.29L415.84 267.05L415.95 267.05L416.06 268.19L416.17 269.70L416.28 270.50L416.39 269.92L416.50 268.32L416.62 266.69L416.73 265.77L416.84 265.87L416.95 266.84L417.06 268.20L417.17 269.19L417.28 269.20L417.39 268.17L417.50 266.65L417.61 265.30L417.72 264.57L417.83 264.63L417.94 265.39L418.05 266.56L418.16 267.69L418.27 268.26L418.38 267.99L418.49 266.99L418.60 265.67L418.71 264.46L418.83 263.68L418.94 263.48L419.05 263.86L419.16 264.70L419.27 265.76L419.38 266.74L419.49 267.30L419.60 267.24L419.71 266.57L419.82 265.51L419.93 264.35L420.04 263.36L420.15 262.71L420.26 262.49L420.37 262.71L420.48 263.31L420.59 264.16L420.70 265.10L420.81 265.92L420.93 266.41L421.04 266.44L421.15 266.01L421.26 265.22L421.37 264.24L421.48 263.26L421.59 262.43L421.70 261.85L421.81 261.58L421.92 261.62L422.03 261.96L422.14 262.55L422.25 263.31L422.36 264.12L422.47 264.87L422.58 265.42L422.69 265.68L422.80 265.59L422.91 265.18L423.03 264.52L423.14 263.71L423.25 262.86L423.36 262.08L423.47 261.43L423.58 260.97L423.69 260.73L423.80 260.71L423.91 260.91L424.02 261.30L424.13 261.85L424.24 262.51L424.35 263.21L424.46 263.88L424.57 264.45L424.68 264.85L424.79 265.03L424.90 264.97L425.01 264.68L425.13 264.19L425.24 263.57L425.35 262.87L425.46 262.16L425.57 261.50L425.68 260.91L425.79 260.45L425.90 260.12L426.01 259.94L426.12 259.91L426.23 260.04L426.34 260.30L426.45 260.69L426.56 261.18L426.67 261.74L426.78 262.34L426.89 262.95L427.00 263.51L427.11 263.99L427.22 264.34L427.34 264.55L427.45 264.59L427.56 264.46L427.67 264.18L427.78 263.75L427.89 263.22L428.00 262.63L428.11 262.00L428.22 261.37L428.33 260.78L428.44 260.23L428.55 259.76L428.66 259.38L428.77 259.10L428.88 258.92L428.99 258.84L429.10 258.87L429.21 259.01L429.32 259.23L429.44 259.55L429.55 259.94L429.66 260.40L429.77 260.89L429.88 261.41L429.99 261.93L430.10 262.43L430.21 262.88L430.32 263.26L430.43 263.56L430.43 263.56L430.52 263.72L430.61 263.81L430.71 263.80L430.80 263.71L430.89 263.53L430.99 263.26L431.08 262.91L431.18 262.50L431.27 262.03L431.37 261.51L431.47 260.97L431.57 260.42L431.67 259.86L431.76 259.32L431.87 258.80L431.97 258.32L432.07 257.88L432.17 257.50L432.27 257.17L432.38 256.91L432.48 256.72L432.59 256.61L432.69 256.56L432.80 256.58L432.91 256.67L433.02 256.83L433.13 257.05L433.24 257.34L433.35 257.70L433.46 258.11L433.57 258.57L433.68 259.08L433.80 259.63L433.91 260.20L434.03 260.78L434.14 261.36L434.26 261.92L434.38 262.45L434.50 262.92L434.62 263.33L434.74 263.64L434.86 263.86L434.99 263.97L435.11 263.97L435.23 263.84L435.36 263.61L435.49 263.28L435.61 262.86L435.74 262.37L435.87 261.82L436.00 261.24L436.14 260.63L436.27 260.03L436.40 259.43L436.54 258.87L436.67 258.34L436.81 257.86L436.95 257.44L437.09 257.08L437.23 256.79L437.37 256.57L437.51 256.44L437.66 256.38L437.80 256.41L437.95 256.53L438.10 256.73L438.25 257.01L438.40 257.38L438.55 257.83L438.70 258.35L438.86 258.94L439.01 259.60L439.17 260.30L439.33 261.06L439.49 261.83L439.65 262.62L439.81 263.39L439.97 264.13L440.14 264.81L440.31 265.41L440.48 265.90L440.65 266.25L440.82 266.45L440.99 266.50L441.16 266.38L441.34 266.12L441.52 265.71L441.70 265.19L441.88 264.57L442.06 263.88L442.25 263.15L442.43 262.40L442.62 261.66L442.81 260.93L443.00 260.25L443.20 259.62L443.39 259.05L443.59 258.56L443.79 258.14L443.99 257.81L444.19 257.57L444.40 257.43L444.60 257.38L444.81 257.43L445.02 257.58L445.24 257.84L445.45 258.19L445.67 258.64L445.89 259.19L446.11 259.83L446.34 260.56L446.56 261.38L446.79 262.26L447.03 263.21L447.26 264.19L447.50 265.20L447.74 266.21L447.98 267.19L448.22 268.09L448.47 268.90L448.72 269.56L448.97 270.05L449.23 270.34L449.49 270.41L449.75 270.26L450.01 269.90L450.28 269.35L450.55 268.65L450.82 267.84L451.10 266.94L451.38 266.00L451.66 265.04L451.95 264.10L452.24 263.20L452.53 262.36L452.82 261.59L453.12 260.90L453.43 260.31L453.74 259.82L454.05 259.43L454.36 259.16L454.68 259.00L455.00 258.95L455.33 259.02L455.66 259.21L456.00 259.53L456.33 259.96L456.68 260.51L457.03 261.18L457.38 261.96L457.74 262.86L458.10 263.87L458.46 264.97L458.84 266.16L459.21 267.42L459.59 268.73L459.98 270.05L460.37 271.36L460.77 272.59L461.17 273.71L461.58 274.65L462.00 275.37L462.42 275.81L462.84 275.95L463.28 275.79L463.72 275.35L464.16 274.66L464.61 273.79L465.07 272.78L465.54 271.68L466.01 270.55L466.49 269.43L466.98 268.34L467.47 267.33L467.97 266.39L468.48 265.56L469.00 264.83L469.53 264.23L470.06 263.74L470.61 263.39L471.16 263.16L471.72 263.07L472.29 263.11L472.29 263.09L473.12 263.61L473.95 264.34L474.78 265.25L475.61 266.30L476.44 267.49L477.27 268.77L478.10 270.12L478.93 271.63L479.76 273.70L480.60 275.98L481.43 277.98L482.26 279.37L483.09 280.67L483.92 281.82L484.75 282.66L485.58 283.03L486.41 282.88L487.24 282.36L488.07 281.60L488.90 280.74L489.73 279.91L490.56 279.24L491.39 278.75L492.22 278.26L493.05 277.77L493.88 277.30L494.71 276.87L495.55 276.50L496.38 276.21L497.21 276.01L498.04 275.93L498.87 275.98L499.70 276.16L500.53 276.43L501.36 276.78L502.19 277.19L503.02 277.64L503.85 278.10L504.68 278.60L505.51 279.26L506.34 280.06L507.17 280.97L508.00 281.93L508.83 282.92L509.66 283.89L510.50 284.80L511.33 285.62L512.16 286.42L512.99 287.24L513.82 288.05L514.65 288.86L515.48 289.63L516.31 290.35L517.14 291.02L517.97 291.60L518.80 292.10L519.63 292.55L520.46 293.00L521.29 293.43L522.12 293.82L522.95 294.14L523.78 294.37L524.62 294.49L525.45 294.50L526.28 294.50L527.11 294.50L527.94 294.50L528.77 294.50L529.60 294.50L530.43 294.50L531.26 294.50L532.09 294.50L532.92 294.50L533.75 294.50L534.58 294.50L535.41 294.50L536.24 294.52L537.07 294.57L537.90 294.63L538.73 294.70L539.57 294.78L540.40 294.86L541.23 294.94L542.06 295.03L542.89 295.12L543.72 295.21L544.55 295.31L545.38 295.42L546.21 295.53L547.04 295.65L547.87 295.78L548.70 295.91L549.53 296.05L550.36 296.19L551.19 296.34L552.02 296.50L552.85 296.67L553.68 296.85L554.52 297.03L555.35 297.22L556.18 297.42L557.01 297.63L557.84 297.84L558.67 298.06L559.50 298.30L560.33 298.54L561.16 298.84L561.99 299.19L562.82 299.59L563.65 300.03L564.48 300.50L565.31 300.99L566.14 301.50L566.97 302.02L567.80 302.54L568.63 303.05L569.47 303.56L570.30 304.07L571.13 304.59L571.96 305.12L572.79 305.67L573.62 306.24L574.45 306.82L575.28 307.43L576.11 308.06L576.94 308.72L577.77 309.40L578.60 310.14L579.43 310.91L580.26 311.73L581.09 312.57L581.92 313.45L582.75 314.34L583.59 315.25L584.42 316.16L585.25 317.08L586.08 317.99L586.91 318.91L587.74 319.85L588.57 320.82L589.40 321.80L590.23 322.79L591.06 323.79L591.89 324.78L592.72 325.76L593.55 326.73L594.38 327.67L595.21 328.58L596.04 329.48L596.87 330.37L597.70 331.25L598.54 332.13L599.37 332.99L600.20 333.83L601.03 334.66L601.86 335.47L602.69 336.26L603.52 337.02L604.35 337.77L605.18 338.55L606.01 339.33L606.84 340.11L607.67 340.87L608.50 341.60L609.33 342.29L610.16 342.91L610.99 343.47L611.82 343.95L612.65 344.32L613.49 344.67L614.32 345.01L615.15 345.33L615.98 345.61L616.81 345.86L617.64 346.05L618.47 346.18L619.30 346.24L620.13 346.21L620.96 346.10L621.79 345.92L622.62 345.69L623.45 345.42L624.28 345.13L625.11 344.82L625.94 344.50L626.77 344.20L627.61 343.88L628.44 343.51L629.27 343.11L630.10 342.68L630.93 342.23L631.76 341.78L632.59 341.31L633.42 340.85L634.25 340.40L635.08 339.96L635.91 339.54L636.74 339.11L637.57 338.68L638.40 338.24L639.23 337.81L640.06 337.37L640.89 336.93L641.72 336.50L642.56 336.07L643.39 335.65L644.22 335.23L645.05 334.81L645.88 334.41L646.71 334.01L647.54 333.63L648.37 333.25L649.20 332.87L650.03 332.48L650.86 332.10L651.69 331.73L652.52 331.36L653.35 331.00L654.18 330.65L655.01 330.32L655.84 330.00L656.67 329.71L657.51 329.44L658.34 329.19L659.17 328.96L660.00 328.75L660.83 328.56L661.66 328.38L662.49 328.20L663.32 328.04L664.15 327.87L664.98 327.70L665.81 327.53L666.64 327.35L667.47 327.17L668.30 326.96L669.13 326.74L669.96 326.52L670.79 326.29L671.62 326.05L672.46 325.80L673.29 325.55L674.12 325.29L674.95 325.03L675.78 324.76L676.61 324.48L677.44 324.20L678.27 323.92L679.10 323.63" stroke="#000" stroke-width="1.15" fill="none" stroke-linecap="round" stroke-dasharray="0.15 2.05"/>
<path d="M407.22 312.31L407.33 310.69L407.44 309.47L407.55 309.13L407.66 309.11L407.77 309.11L407.88 309.22L407.99 309.85L408.10 311.38L408.22 313.02L408.33 312.26L408.44 309.58L408.55 309.87L408.66 313.28L408.77 311.17L408.88 309.44L408.99 313.69L409.10 310.06L409.21 311.42L409.32 312.55L409.43 309.79L409.54 313.91L409.65 309.36L409.76 314.35L409.87 309.47L409.98 314.09L410.09 310.34L410.20 312.52L410.32 312.72L410.43 309.96L410.54 315.59L410.65 309.39L410.76 313.52L410.87 313.72L410.98 309.23L411.09 315.53L411.20 312.61L411.31 309.46L411.42 315.93L411.53 313.30L411.64 309.17L411.75 314.73L411.86 315.77L411.97 309.58L412.08 311.46L412.19 317.49L412.30 313.22L412.42 309.11L412.53 313.08L412.64 318.04L412.75 313.08L412.86 309.12L412.97 312.35L413.08 318.21L413.19 315.48L413.30 309.92L413.41 309.96L413.52 315.47L413.63 319.00L413.74 314.16L413.85 309.55L413.96 310.15L414.07 315.41L414.18 319.57L414.29 316.02L414.40 310.69L414.52 309.19L414.63 312.26L414.74 317.84L414.85 319.77L414.96 315.32L415.07 310.56L415.18 309.15L415.29 311.52L415.40 316.49L415.51 320.12L415.62 318.11L415.73 313.23L415.84 309.86L415.95 309.46L416.06 312.00L416.17 316.47L416.28 320.08L416.39 319.41L416.50 315.41L416.62 311.60L416.73 309.77L416.84 310.31L416.95 313.00L417.06 316.97L417.17 320.21L417.28 320.28L417.39 317.31L417.50 313.68L417.61 311.12L417.72 310.27L417.83 311.19L417.94 313.66L418.05 317.04L418.16 320.02L418.27 320.93L418.38 319.25L418.49 316.20L418.60 313.28L418.71 311.34L418.83 310.68L418.94 311.33L419.05 313.14L419.16 315.78L419.27 318.59L419.38 320.52L419.49 320.65L419.60 318.98L419.71 316.37L419.82 313.78L419.93 311.80L420.04 310.71L420.15 310.57L420.26 311.36L420.37 312.96L420.48 315.13L420.59 317.47L420.70 319.37L420.81 320.20L420.93 319.63L421.04 317.94L421.15 315.71L421.26 313.51L421.37 311.72L421.48 310.51L421.59 309.96L421.70 310.10L421.81 310.88L421.92 312.21L422.03 313.98L422.14 315.96L422.25 317.82L422.36 319.17L422.47 319.65L422.58 319.12L422.69 317.72L422.80 315.83L422.91 313.82L423.03 311.96L423.14 310.45L423.25 309.38L423.36 308.80L423.47 308.73L423.58 309.16L423.69 310.07L423.80 311.42L423.91 313.11L424.02 315.02L424.13 316.93L424.24 318.57L424.35 319.62L424.46 319.84L424.57 319.16L424.68 317.74L424.79 315.86L424.90 313.82L425.01 311.83L425.13 310.07L425.24 308.61L425.35 307.50L425.46 306.77L425.57 306.42L425.68 306.44L425.79 306.84L425.90 307.59L426.01 308.67L426.12 310.04L426.23 311.65L426.34 313.39L426.45 315.15L426.56 316.73L426.67 317.94L426.78 318.56L426.89 318.48L427.00 317.70L427.11 316.34L427.22 314.59L427.34 312.66L427.45 310.71L427.56 308.85L427.67 307.19L427.78 305.75L427.89 304.57L428.00 303.65L428.11 303.02L428.22 302.65L428.33 302.56L428.44 302.74L428.55 303.18L428.66 303.88L428.77 304.82L428.88 305.99L428.99 307.36L429.10 308.91L429.21 310.57L429.32 312.29L429.44 313.95L429.55 315.43L429.66 316.59L429.77 317.29L429.88 317.42L429.99 316.96L430.10 315.97L430.21 314.55L430.32 312.86L430.43 311.02L430.43 311.02L430.52 309.53L430.61 308.05L430.70 306.62L430.79 305.26L430.88 304.00L430.97 302.85L431.06 301.82L431.15 300.91L431.25 300.13L431.34 299.48L431.43 298.97L431.53 298.60L431.62 298.36L431.72 298.27L431.82 298.32L431.91 298.52L432.01 298.87L432.11 299.36L432.21 300.01L432.31 300.82L432.41 301.78L432.51 302.90L432.62 304.17L432.72 305.58L432.82 307.14L432.93 308.80L433.03 310.55L433.14 312.33L433.24 314.07L433.35 315.66L433.46 316.99L433.57 317.93L433.68 318.36L433.79 318.21L433.90 317.49L434.01 316.25L434.12 314.61L434.24 312.70L434.35 310.65L434.47 308.55L434.58 306.48L434.70 304.50L434.82 302.63L434.94 300.91L435.06 299.33L435.18 297.92L435.30 296.67L435.42 295.58L435.54 294.67L435.67 293.91L435.79 293.32L435.92 292.89L436.05 292.62L436.17 292.52L436.30 292.58L436.43 292.81L436.57 293.21L436.70 293.78L436.83 294.53L436.96 295.46L437.10 296.58L437.24 297.89L437.37 299.39L437.51 301.09L437.65 302.98L437.79 305.06L437.93 307.29L438.08 309.62L438.22 311.98L438.37 314.23L438.51 316.20L438.66 317.65L438.81 318.37L438.96 318.21L439.11 317.19L439.26 315.43L439.42 313.18L439.57 310.64L439.73 308.00L439.89 305.38L440.05 302.88L440.21 300.54L440.37 298.38L440.53 296.41L440.70 294.65L440.87 293.08L441.03 291.71L441.20 290.53L441.37 289.54L441.55 288.74L441.72 288.11L441.90 287.67L442.07 287.40L442.25 287.31L442.43 287.39L442.61 287.66L442.80 288.11L442.98 288.75L443.17 289.58L443.36 290.61L443.55 291.85L443.74 293.31L443.94 294.99L444.13 296.91L444.33 299.07L444.53 301.47L444.73 304.10L444.94 306.91L445.14 309.84L445.35 312.74L445.56 315.36L445.77 317.37L445.99 318.42L446.20 318.26L446.42 316.89L446.64 314.58L446.86 311.70L447.09 308.57L447.32 305.42L447.55 302.39L447.78 299.56L448.01 296.95L448.25 294.59L448.49 292.46L448.73 290.57L448.98 288.90L449.22 287.44L449.47 286.20L449.73 285.15L449.98 284.30L450.24 283.63L450.50 283.15L450.77 282.85L451.03 282.73L451.30 282.80L451.58 283.04L451.85 283.47L452.13 284.09L452.41 284.91L452.70 285.93L452.99 287.17L453.28 288.63L453.58 290.33L453.87 292.27L454.18 294.47L454.48 296.94L454.79 299.67L455.11 302.64L455.42 305.78L455.75 308.95L456.07 311.90L456.40 314.24L456.73 315.52L457.07 315.39L457.41 313.84L457.76 311.20L458.11 307.93L458.47 304.42L458.83 300.94L459.19 297.62L459.56 294.54L459.93 291.72L460.31 289.16L460.70 286.87L461.09 284.83L461.48 283.03L461.88 281.47L462.29 280.12L462.70 278.98L463.11 278.05L463.54 277.32L463.97 276.78L464.40 276.44L464.84 276.30L465.29 276.35L465.74 276.60L466.20 277.06L466.67 277.72L467.14 278.60L467.63 279.71L468.11 281.07L468.61 282.70L469.11 284.62L469.62 286.86L470.14 289.46L470.67 292.46L471.21 295.91L471.75 299.86L472.30 304.35L472.87 309.36L473.44 314.69L474.02 319.72L474.61 323.13L475.21 323.36L475.82 320.24L476.44 315.18L477.07 309.60L477.71 304.25L478.36 299.38L479.03 295.05L479.70 291.21L480.39 287.83L481.09 284.85L481.81 282.23L482.53 279.95L483.27 277.97L484.03 276.26L484.80 274.82L485.58 273.62L486.38 272.67L487.19 271.96L488.02 271.47L488.87 271.23L489.73 271.24L490.61 271.60L491.51 272.27L492.43 273.19L493.36 274.30L494.32 275.53L495.30 276.96L496.29 278.65L497.31 280.61L498.36 282.87L499.42 285.47L500.51 288.45L501.62 291.88L502.76 295.84L503.93 300.43L505.12 305.78L506.35 312.02L507.60 319.17L508.88 326.72L510.19 332.63L511.54 333.20L512.92 328.00L514.34 320.58L515.79 313.38L517.29 307.06L518.82 301.66L520.39 297.18L520.39 297.18L521.19 295.83L521.99 294.53L522.79 293.28L523.58 292.11L524.38 291.03L525.18 290.05L525.98 289.13L526.77 288.25L527.57 287.42L528.37 286.63L529.17 285.88L529.96 285.16L530.76 284.47L531.56 283.82L532.36 283.19L533.15 282.59L533.95 282.01L534.75 281.45L535.55 280.92L536.34 280.41L537.14 279.92L537.94 279.47L538.74 279.03L539.53 278.61L540.33 278.20L541.13 277.81L541.93 277.43L542.72 277.06L543.52 276.70L544.32 276.37L545.12 276.04L545.91 275.74L546.71 275.45L547.51 275.18L548.31 274.92L549.10 274.68L549.90 274.45L550.70 274.23L551.50 274.01L552.29 273.81L553.09 273.61L553.89 273.42L554.69 273.23L555.48 273.04L556.28 272.85L557.08 272.67L557.88 272.48L558.67 272.30L559.47 272.11L560.27 271.91L561.07 271.70L561.86 271.48L562.66 271.28L563.46 271.10L564.26 270.98L565.05 270.88L565.85 270.78L566.65 270.69L567.45 270.61L568.24 270.54L569.04 270.48L569.84 270.44L570.64 270.41L571.43 270.40L572.23 270.42L573.03 270.48L573.83 270.58L574.62 270.70L575.42 270.84L576.22 271.00L577.02 271.17L577.81 271.36L578.61 271.55L579.41 271.74L580.21 271.92L581.00 272.11L581.80 272.33L582.60 272.58L583.40 272.85L584.19 273.14L584.99 273.45L585.79 273.76L586.59 274.08L587.39 274.41L588.18 274.72L588.98 275.03L589.78 275.33L590.58 275.60L591.37 275.86L592.17 276.09L592.97 276.28L593.77 276.45L594.56 276.59L595.36 276.72L596.16 276.84L596.96 276.95L597.75 277.06L598.55 277.15L599.35 277.25L600.15 277.35L600.94 277.44L601.74 277.54L602.54 277.65L603.34 277.77L604.13 277.90L604.93 278.05L605.73 278.21L606.53 278.39L607.32 278.62L608.12 278.89L608.92 279.21L609.72 279.56L610.51 279.93L611.31 280.33L612.11 280.75L612.91 281.19L613.70 281.63L614.50 282.07L615.30 282.51L616.10 282.94L616.89 283.36L617.69 283.75L618.49 284.13L619.29 284.47L620.08 284.77L620.88 285.04L621.68 285.27L622.48 285.47L623.27 285.65L624.07 285.82L624.87 286.00L625.67 286.18L626.46 286.39L627.26 286.63L628.06 286.92L628.86 287.26L629.65 287.63L630.45 288.03L631.25 288.44L632.05 288.84L632.84 289.23L633.64 289.59L634.44 289.91L635.24 290.17L636.03 290.39L636.83 290.60L637.63 290.78L638.43 290.96L639.22 291.12L640.02 291.27L640.82 291.41L641.62 291.55L642.41 291.70L643.21 291.84L644.01 291.98L644.81 292.14L645.60 292.30L646.40 292.47L647.20 292.66L648.00 292.87L648.79 293.10L649.59 293.36L650.39 293.64L651.19 293.95L651.98 294.27L652.78 294.61L653.58 294.96L654.38 295.32L655.17 295.69L655.97 296.06L656.77 296.42L657.57 296.79L658.36 297.14L659.16 297.49L659.96 297.82L660.76 298.13L661.55 298.43L662.35 298.70L663.15 298.95L663.95 299.19L664.74 299.42L665.54 299.66L666.34 299.88L667.14 300.11L667.93 300.33L668.73 300.54L669.53 300.75L670.33 300.96L671.12 301.16L671.92 301.35L672.72 301.54L673.52 301.72L674.31 301.90L675.11 302.06L675.91 302.22L676.71 302.38L677.50 302.52L678.30 302.66L679.10 302.79" stroke="#000" stroke-width="1.25" fill="none" stroke-linejoin="round"/>
<path d="M407.22 293.08L407.90 290.38L408.58 287.13L409.27 283.40L409.95 280.34L410.63 278.57L411.31 277.29L411.99 276.12L412.67 274.97L413.35 273.89L414.03 272.92L414.72 272.09L415.40 271.44L416.08 270.89L416.76 270.38L417.44 269.91L418.12 269.48L418.80 269.10L419.49 268.76L420.17 268.45L420.85 268.19L421.53 267.96L422.21 267.75L422.89 267.55L423.57 267.36L424.26 267.19L424.94 267.03L425.62 266.90L426.30 266.80L426.98 266.72L427.66 266.67L428.34 266.63L429.03 266.59L429.71 266.55L430.39 266.52L431.07 266.51L431.75 266.51L432.43 266.52L433.11 266.53L433.80 266.57L434.48 266.63L435.16 266.72L435.84 266.82L436.52 266.94L437.20 267.07L437.88 267.21L438.57 267.35L439.25 267.50L439.93 267.65L440.61 267.81L441.29 267.98L441.97 268.17L442.65 268.36L443.34 268.55L444.02 268.76L444.70 268.97L445.38 269.18L446.06 269.40L446.74 269.63L447.42 269.85L448.10 270.08L448.79 270.31L449.47 270.54L450.15 270.77L450.83 271.01L451.51 271.25L452.19 271.49L452.87 271.73L453.56 271.97L454.24 272.22L454.92 272.48L455.60 272.74L456.28 273.00L456.96 273.27L457.64 273.54L458.33 273.82L459.01 274.10L459.69 274.39L460.37 274.67L461.05 274.97L461.73 275.27L462.41 275.57L463.10 275.87L463.78 276.18L464.46 276.49L465.14 276.80L465.82 277.12L466.50 277.44L467.18 277.77L467.87 278.11L468.55 278.45L469.23 278.80L469.91 279.17L470.59 279.55L471.27 279.93L471.95 280.34L472.64 280.75L473.32 281.19L474.00 281.63L474.68 282.09L475.36 282.56L476.04 283.05L476.72 283.55L477.41 284.06L478.09 284.57L478.77 285.10L479.45 285.63L480.13 286.17L480.81 286.72L481.49 287.26L482.17 287.82L482.86 288.37L483.54 288.93L484.22 289.49L484.90 290.05L485.58 290.61L486.26 291.17L486.94 291.73L487.63 292.29L488.31 292.85L488.99 293.41L489.67 293.96L490.35 294.50L491.03 295.04L491.71 295.57L492.40 296.09L493.08 296.61L493.76 297.11L494.44 297.61L495.12 298.09L495.80 298.57L496.48 299.04L497.17 299.50L497.85 299.95L498.53 300.40L499.21 300.84L499.89 301.29L500.57 301.73L501.25 302.18L501.94 302.63L502.62 303.09L503.30 303.56L503.98 304.03L504.66 304.52L505.34 305.01L506.02 305.52L506.71 306.04L507.39 306.57L508.07 307.11L508.75 307.66L509.43 308.22L510.11 308.78L510.79 309.35L511.48 309.93L512.16 310.51L512.84 311.09L513.52 311.68L514.20 312.26L514.88 312.85L515.56 313.43L516.25 314.01L516.93 314.59L517.61 315.16L518.29 315.72L518.97 316.28L519.65 316.83L520.33 317.37L521.01 317.91L521.70 318.43L522.38 318.94L523.06 319.45L523.74 319.94L524.42 320.42L525.10 320.90L525.78 321.36L526.47 321.82L527.15 322.27L527.83 322.71L528.51 323.14L529.19 323.57L529.87 323.99L530.55 324.41L531.24 324.82L531.92 325.22L532.60 325.62L533.28 326.02L533.96 326.41L534.64 326.79L535.32 327.17L536.01 327.55L536.69 327.92L537.37 328.29L538.05 328.65L538.73 329.01L539.41 329.36L540.09 329.71L540.78 330.06L541.46 330.39L542.14 330.73L542.82 331.06L543.50 331.38L544.18 331.70L544.86 332.02L545.55 332.33L546.23 332.64L546.91 332.94L547.59 333.23L548.27 333.52L548.95 333.81L549.63 334.09L550.32 334.36L551.00 334.64L551.68 334.90L552.36 335.17L553.04 335.43L553.72 335.68L554.40 335.94L555.08 336.18L555.77 336.43L556.45 336.68L557.13 336.92L557.81 337.16L558.49 337.40L559.17 337.63L559.85 337.87L560.54 338.10L561.22 338.33L561.90 338.56L562.58 338.79L563.26 339.01L563.94 339.24L564.62 339.46L565.31 339.68L565.99 339.91L566.67 340.13L567.35 340.34L568.03 340.56L568.71 340.78L569.39 340.99L570.08 341.21L570.76 341.42L571.44 341.63L572.12 341.84L572.80 342.06L573.48 342.27L574.16 342.48L574.85 342.69L575.53 342.89L576.21 343.10L576.89 343.31L577.57 343.52L578.25 343.73L578.93 343.93L579.62 344.14L580.30 344.35L580.98 344.55L581.66 344.76L582.34 344.96L583.02 345.17L583.70 345.37L584.39 345.57L585.07 345.78L585.75 345.98L586.43 346.18L587.11 346.37L587.79 346.57L588.47 346.77L589.16 346.96L589.84 347.15L590.52 347.34L591.20 347.53L591.88 347.72L592.56 347.90L593.24 348.08L593.92 348.26L594.61 348.44L595.29 348.61L595.97 348.79L596.65 348.96L597.33 349.13L598.01 349.30L598.69 349.46L599.38 349.62L600.06 349.79L600.74 349.95L601.42 350.11L602.10 350.26L602.78 350.42L603.46 350.57L604.15 350.73L604.83 350.88L605.51 351.03L606.19 351.18L606.87 351.33L607.55 351.48L608.23 351.63L608.92 351.78L609.60 351.93L610.28 352.08L610.96 352.23L611.64 352.37L612.32 352.52L613.00 352.67L613.69 352.81L614.37 352.96L615.05 353.11L615.73 353.26L616.41 353.40L617.09 353.55L617.77 353.69L618.46 353.84L619.14 353.98L619.82 354.13L620.50 354.27L621.18 354.41L621.86 354.55L622.54 354.69L623.23 354.82L623.91 354.96L624.59 355.09L625.27 355.23L625.95 355.36L626.63 355.49L627.31 355.61L627.99 355.74L628.68 355.86L629.36 355.98L630.04 356.10L630.72 356.22L631.40 356.34L632.08 356.45L632.76 356.56L633.45 356.68L634.13 356.79L634.81 356.90L635.49 357.01L636.17 357.11L636.85 357.22L637.53 357.32L638.22 357.43L638.90 357.53L639.58 357.63L640.26 357.73L640.94 357.83L641.62 357.93L642.30 358.03L642.99 358.13L643.67 358.23L644.35 358.32L645.03 358.42L645.71 358.51L646.39 358.60L647.07 358.69L647.76 358.79L648.44 358.88L649.12 358.96L649.80 359.05L650.48 359.14L651.16 359.23L651.84 359.31L652.53 359.39L653.21 359.48L653.89 359.56L654.57 359.64L655.25 359.72L655.93 359.80L656.61 359.88L657.30 359.96L657.98 360.04L658.66 360.11L659.34 360.19L660.02 360.26L660.70 360.34L661.38 360.41L662.06 360.48L662.75 360.55L663.43 360.62L664.11 360.69L664.79 360.76L665.47 360.83L666.15 360.90L666.83 360.97L667.52 361.03L668.20 361.10L668.88 361.16L669.56 361.22L670.24 361.29L670.92 361.35L671.60 361.41L672.29 361.47L672.97 361.53L673.65 361.59L674.33 361.65L675.01 361.70L675.69 361.76L676.37 361.82L677.06 361.87L677.74 361.93L678.42 361.98L679.10 362.04" stroke="#f00" stroke-width="1.15" fill="none" stroke-linecap="round" stroke-dasharray="0.15 2.05"/>
<path d="M407.22 300.43L407.90 296.80L408.58 293.55L409.27 290.54L409.95 287.89L410.63 285.71L411.31 283.85L411.99 282.21L412.67 280.65L413.35 279.17L414.03 277.83L414.72 276.67L415.40 275.72L416.08 274.88L416.76 274.10L417.44 273.37L418.12 272.71L418.80 272.10L419.49 271.55L420.17 271.07L420.85 270.65L421.53 270.29L422.21 269.96L422.89 269.64L423.57 269.34L424.26 269.07L424.94 268.83L425.62 268.62L426.30 268.46L426.98 268.35L427.66 268.29L428.34 268.23L429.03 268.19L429.71 268.15L430.39 268.11L431.07 268.10L431.75 268.09L432.43 268.10L433.11 268.11L433.80 268.14L434.48 268.19L435.16 268.26L435.84 268.34L436.52 268.43L437.20 268.53L437.88 268.63L438.57 268.74L439.25 268.84L439.93 268.94L440.61 269.05L441.29 269.17L441.97 269.29L442.65 269.42L443.34 269.55L444.02 269.69L444.70 269.83L445.38 269.98L446.06 270.13L446.74 270.30L447.42 270.47L448.10 270.64L448.79 270.83L449.47 271.02L450.15 271.23L450.83 271.44L451.51 271.65L452.19 271.88L452.87 272.11L453.56 272.35L454.24 272.60L454.92 272.85L455.60 273.11L456.28 273.38L456.96 273.65L457.64 273.92L458.33 274.20L459.01 274.49L459.69 274.77L460.37 275.06L461.05 275.36L461.73 275.66L462.41 275.96L463.10 276.26L463.78 276.57L464.46 276.88L465.14 277.19L465.82 277.51L466.50 277.83L467.18 278.16L467.87 278.50L468.55 278.84L469.23 279.20L469.91 279.56L470.59 279.94L471.27 280.33L471.95 280.73L472.64 281.15L473.32 281.58L474.00 282.03L474.68 282.49L475.36 282.96L476.04 283.45L476.72 283.94L477.41 284.45L478.09 284.97L478.77 285.49L479.45 286.03L480.13 286.57L480.81 287.11L481.49 287.66L482.17 288.21L482.86 288.77L483.54 289.32L484.22 289.88L484.90 290.44L485.58 291.01L486.26 291.57L486.94 292.13L487.63 292.69L488.31 293.25L488.99 293.80L489.67 294.35L490.35 294.89L491.03 295.43L491.71 295.96L492.40 296.49L493.08 297.00L493.76 297.51L494.44 298.00L495.12 298.49L495.80 298.96L496.48 299.43L497.17 299.89L497.85 300.34L498.53 300.79L499.21 301.23L499.89 301.68L500.57 302.12L501.25 302.57L501.94 303.02L502.62 303.47L503.30 303.94L503.98 304.41L504.66 304.89L505.34 305.39L506.02 305.89L506.71 306.40L507.39 306.93L508.07 307.46L508.75 308.01L509.43 308.56L510.11 309.12L510.79 309.69L511.48 310.26L512.16 310.84L512.84 311.43L513.52 312.02L514.20 312.61L514.88 313.20L515.56 313.79L516.25 314.38L516.93 314.98L517.61 315.57L518.29 316.15L518.97 316.74L519.65 317.32L520.33 317.90L521.01 318.47L521.70 319.04L522.38 319.60L523.06 320.15L523.74 320.71L524.42 321.25L525.10 321.79L525.78 322.33L526.47 322.86L527.15 323.39L527.83 323.92L528.51 324.44L529.19 324.95L529.87 325.47L530.55 325.98L531.24 326.49L531.92 327.00L532.60 327.50L533.28 328.00L533.96 328.50L534.64 328.99L535.32 329.49L536.01 329.97L536.69 330.46L537.37 330.94L538.05 331.42L538.73 331.89L539.41 332.36L540.09 332.83L540.78 333.29L541.46 333.75L542.14 334.20L542.82 334.64L543.50 335.09L544.18 335.52L544.86 335.95L545.55 336.38L546.23 336.80L546.91 337.22L547.59 337.63L548.27 338.03L548.95 338.44L549.63 338.83L550.32 339.22L551.00 339.61L551.68 339.99L552.36 340.36L553.04 340.73L553.72 341.09L554.40 341.45L555.08 341.80L555.77 342.14L556.45 342.48L557.13 342.82L557.81 343.15L558.49 343.47L559.17 343.79L559.85 344.10L560.54 344.40L561.22 344.70L561.90 345.00L562.58 345.29L563.26 345.58L563.94 345.86L564.62 346.14L565.31 346.41L565.99 346.68L566.67 346.95L567.35 347.21L568.03 347.47L568.71 347.72L569.39 347.97L570.08 348.21L570.76 348.45L571.44 348.68L572.12 348.91L572.80 349.13L573.48 349.34L574.16 349.55L574.85 349.76L575.53 349.96L576.21 350.15L576.89 350.34L577.57 350.52L578.25 350.70L578.93 350.87L579.62 351.04L580.30 351.20L580.98 351.36L581.66 351.52L582.34 351.67L583.02 351.82L583.70 351.96L584.39 352.10L585.07 352.24L585.75 352.38L586.43 352.51L587.11 352.65L587.79 352.78L588.47 352.91L589.16 353.04L589.84 353.16L590.52 353.29L591.20 353.42L591.88 353.55L592.56 353.68L593.24 353.80L593.92 353.93L594.61 354.06L595.29 354.19L595.97 354.32L596.65 354.44L597.33 354.57L598.01 354.70L598.69 354.83L599.38 354.96L600.06 355.09L600.74 355.22L601.42 355.35L602.10 355.48L602.78 355.60L603.46 355.73L604.15 355.85L604.83 355.98L605.51 356.10L606.19 356.22L606.87 356.34L607.55 356.46L608.23 356.58L608.92 356.69L609.60 356.80L610.28 356.91L610.96 357.02L611.64 357.13L612.32 357.23L613.00 357.34L613.69 357.44L614.37 357.54L615.05 357.64L615.73 357.73L616.41 357.83L617.09 357.92L617.77 358.01L618.46 358.10L619.14 358.19L619.82 358.28L620.50 358.36L621.18 358.45L621.86 358.54L622.54 358.62L623.23 358.70L623.91 358.79L624.59 358.87L625.27 358.95L625.95 359.03L626.63 359.11L627.31 359.19L627.99 359.27L628.68 359.35L629.36 359.43L630.04 359.51L630.72 359.59L631.40 359.66L632.08 359.74L632.76 359.82L633.45 359.90L634.13 359.98L634.81 360.06L635.49 360.13L636.17 360.21L636.85 360.29L637.53 360.37L638.22 360.45L638.90 360.52L639.58 360.60L640.26 360.68L640.94 360.76L641.62 360.83L642.30 360.91L642.99 360.99L643.67 361.07L644.35 361.14L645.03 361.22L645.71 361.30L646.39 361.37L647.07 361.45L647.76 361.52L648.44 361.60L649.12 361.68L649.80 361.75L650.48 361.83L651.16 361.90L651.84 361.98L652.53 362.05L653.21 362.13L653.89 362.20L654.57 362.28L655.25 362.35L655.93 362.42L656.61 362.50L657.30 362.57L657.98 362.64L658.66 362.72L659.34 362.79L660.02 362.86L660.70 362.93L661.38 363.01L662.06 363.08L662.75 363.15L663.43 363.22L664.11 363.29L664.79 363.36L665.47 363.43L666.15 363.51L666.83 363.58L667.52 363.65L668.20 363.72L668.88 363.79L669.56 363.85L670.24 363.92L670.92 363.99L671.60 364.06L672.29 364.13L672.97 364.20L673.65 364.27L674.33 364.33L675.01 364.40L675.69 364.47L676.37 364.54L677.06 364.60L677.74 364.67L678.42 364.74L679.10 364.81" stroke="#f00" stroke-width="1.25" fill="none"/>
</g>
<path d="M408.33 368.9v-2.9M408.33 203.5v2.9M413.85 368.9v-2.9M413.85 203.5v2.9M419.38 368.9v-2.9M419.38 203.5v2.9M424.9 368.9v-2.9M424.9 203.5v2.9M430.43 368.9v-4.1M430.43 203.5v4.1M435.96 368.9v-2.9M435.96 203.5v2.9M441.48 368.9v-2.9M441.48 203.5v2.9M447.01 368.9v-2.9M447.01 203.5v2.9M452.53 368.9v-2.9M452.53 203.5v2.9M458.06 368.9v-4.1M458.06 203.5v4.1M463.59 368.9v-2.9M463.59 203.5v2.9M469.11 368.9v-2.9M469.11 203.5v2.9M474.64 368.9v-2.9M474.64 203.5v2.9M480.16 368.9v-2.9M480.16 203.5v2.9M485.69 368.9v-4.1M485.69 203.5v4.1M491.22 368.9v-2.9M491.22 203.5v2.9M496.74 368.9v-2.9M496.74 203.5v2.9M502.27 368.9v-2.9M502.27 203.5v2.9M507.79 368.9v-2.9M507.79 203.5v2.9M513.32 368.9v-4.1M513.32 203.5v4.1M518.85 368.9v-2.9M518.85 203.5v2.9M524.37 368.9v-2.9M524.37 203.5v2.9M529.9 368.9v-2.9M529.9 203.5v2.9M535.42 368.9v-2.9M535.42 203.5v2.9M540.95 368.9v-4.1M540.95 203.5v4.1M546.48 368.9v-2.9M546.48 203.5v2.9M552 368.9v-2.9M552 203.5v2.9M557.53 368.9v-2.9M557.53 203.5v2.9M563.05 368.9v-2.9M563.05 203.5v2.9M568.58 368.9v-4.1M568.58 203.5v4.1M574.11 368.9v-2.9M574.11 203.5v2.9M579.63 368.9v-2.9M579.63 203.5v2.9M585.16 368.9v-2.9M585.16 203.5v2.9M590.68 368.9v-2.9M590.68 203.5v2.9M596.21 368.9v-4.1M596.21 203.5v4.1M601.74 368.9v-2.9M601.74 203.5v2.9M607.26 368.9v-2.9M607.26 203.5v2.9M612.79 368.9v-2.9M612.79 203.5v2.9M618.31 368.9v-2.9M618.31 203.5v2.9M623.84 368.9v-4.1M623.84 203.5v4.1M629.37 368.9v-2.9M629.37 203.5v2.9M634.89 368.9v-2.9M634.89 203.5v2.9M640.42 368.9v-2.9M640.42 203.5v2.9M645.94 368.9v-2.9M645.94 203.5v2.9M651.47 368.9v-4.1M651.47 203.5v4.1M657 368.9v-2.9M657 203.5v2.9M662.52 368.9v-2.9M662.52 203.5v2.9M668.05 368.9v-2.9M668.05 203.5v2.9M673.57 368.9v-2.9M673.57 203.5v2.9M407.6 365.18h3M679.4 365.18h-3M407.6 361.36h3M679.4 361.36h-3M407.6 358.24h3M679.4 358.24h-3M407.6 355.6h3M679.4 355.6h-3M407.6 353.32h3M679.4 353.32h-3M407.6 351.3h3M679.4 351.3h-3M407.6 349.5h4.3M679.4 349.5h-4.3M407.6 337.64h3M679.4 337.64h-3M407.6 330.7h3M679.4 330.7h-3M407.6 325.78h3M679.4 325.78h-3M407.6 321.96h3M679.4 321.96h-3M407.6 318.84h3M679.4 318.84h-3M407.6 316.2h3M679.4 316.2h-3M407.6 313.92h3M679.4 313.92h-3M407.6 311.9h3M679.4 311.9h-3M407.6 310.1h4.3M679.4 310.1h-4.3M407.6 298.24h3M679.4 298.24h-3M407.6 291.3h3M679.4 291.3h-3M407.6 286.38h3M679.4 286.38h-3M407.6 282.56h3M679.4 282.56h-3M407.6 279.44h3M679.4 279.44h-3M407.6 276.8h3M679.4 276.8h-3M407.6 274.52h3M679.4 274.52h-3M407.6 272.5h3M679.4 272.5h-3M407.6 270.7h4.3M679.4 270.7h-4.3M407.6 258.84h3M679.4 258.84h-3M407.6 251.9h3M679.4 251.9h-3M407.6 246.98h3M679.4 246.98h-3M407.6 243.16h3M679.4 243.16h-3M407.6 240.04h3M679.4 240.04h-3M407.6 237.4h3M679.4 237.4h-3M407.6 235.12h3M679.4 235.12h-3M407.6 233.1h3M679.4 233.1h-3M407.6 231.3h4.3M679.4 231.3h-4.3M407.6 219.44h3M679.4 219.44h-3M407.6 212.5h3M679.4 212.5h-3M407.6 207.58h3M679.4 207.58h-3" stroke="#3c3c3c" stroke-width="0.95" fill="none"/>
<rect x="407.6" y="203.5" width="271.8" height="165.4" fill="none" stroke="#3a3a3a" stroke-width="1.05"/>
<g class="t" opacity="0.999"><text transform="translate(430.43 380.8) scale(1 1.08)" text-anchor="middle">1</text><text transform="translate(458.06 380.8) scale(1 1.08)" text-anchor="middle">2</text><text transform="translate(485.69 380.8) scale(1 1.08)" text-anchor="middle">3</text><text transform="translate(513.32 380.8) scale(1 1.08)" text-anchor="middle">4</text><text transform="translate(540.95 380.8) scale(1 1.08)" text-anchor="middle">5</text><text transform="translate(568.58 380.8) scale(1 1.08)" text-anchor="middle">6</text><text transform="translate(596.21 380.8) scale(1 1.08)" text-anchor="middle">7</text><text transform="translate(623.84 380.8) scale(1 1.08)" text-anchor="middle">8</text><text transform="translate(651.47 380.8) scale(1 1.08)" text-anchor="middle">9</text><text transform="translate(679.1 380.8) scale(1 1.08)" text-anchor="middle">10</text><text transform="translate(518.6 397.3) scale(1 1.08)">E</text><text x="526.2" y="399.5" class="s" font-style="italic" transform="skewX(0)">&#957;</text><text transform="translate(536.4 397.3) scale(1 1.08)" textLength="31" lengthAdjust="spacingAndGlyphs">(GeV)</text><text transform="translate(404.1 350.1) scale(1 1.08)" text-anchor="end" class="s">4</text><rect x="393.5" y="347.95" width="5.0" height="0.75" fill="#111"/><text transform="translate(392.9 354.5) scale(1 1.08)" text-anchor="end" textLength="11.9" lengthAdjust="spacingAndGlyphs">10</text><text transform="translate(404.1 310.7) scale(1 1.08)" text-anchor="end" class="s">3</text><rect x="393.5" y="308.55" width="5.0" height="0.75" fill="#111"/><text transform="translate(392.9 315.1) scale(1 1.08)" text-anchor="end" textLength="11.9" lengthAdjust="spacingAndGlyphs">10</text><text transform="translate(404.1 271.3) scale(1 1.08)" text-anchor="end" class="s">2</text><rect x="393.5" y="269.15" width="5.0" height="0.75" fill="#111"/><text transform="translate(392.9 275.7) scale(1 1.08)" text-anchor="end" textLength="11.9" lengthAdjust="spacingAndGlyphs">10</text><text transform="translate(404.1 231.9) scale(1 1.08)" text-anchor="end" class="s">1</text><rect x="393.5" y="229.75" width="5.0" height="0.75" fill="#111"/><text transform="translate(392.9 236.3) scale(1 1.08)" text-anchor="end" textLength="11.9" lengthAdjust="spacingAndGlyphs">10</text><g transform="translate(371 203) rotate(-90)"><text x="-137.4" y="0">&#934;</text><text x="-125.4" y="0">&#215;</text><text x="-113.2" y="0" font-style="italic">&#963;</text><text x="-106.4" y="0" textLength="17.0" lengthAdjust="spacingAndGlyphs">(10</text><rect x="-86.6" y="-7.4" width="5.3" height="0.75" fill="#111"/><text x="-80.9" y="-5.3" class="s">24</text><text x="-69.3" y="0">GeV</text><rect x="-45.5" y="-7.4" width="5.3" height="0.75" fill="#111"/><text x="-39.2" y="-5.3" class="s">1</text><text x="-33.6" y="0">)</text></g></g>
</svg></body></html>
